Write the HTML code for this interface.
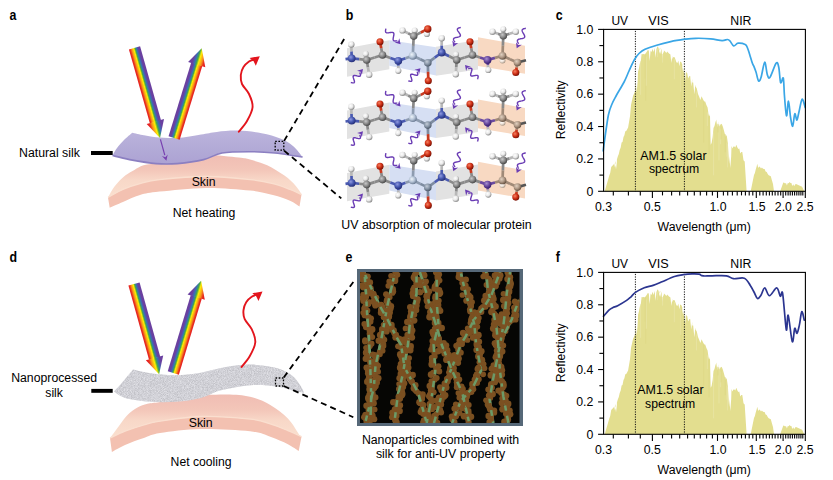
<!DOCTYPE html>
<html><head><meta charset="utf-8"><style>
html,body{margin:0;padding:0;background:#fff;overflow:hidden;}
svg{display:block;}
</style></head><body>
<svg width="833" height="480" viewBox="0 0 833 480" font-family='"Liberation Sans", sans-serif'>
<defs><linearGradient id="skta" x1="0" y1="0" x2="0" y2="1"><stop offset="0" stop-color="#f0bdb3"/><stop offset="0.35" stop-color="#f3c6b9"/><stop offset="0.6" stop-color="#f8d8c8"/><stop offset="1" stop-color="#fae0cf"/></linearGradient>
<linearGradient id="sga" x1="0" y1="0" x2="0" y2="1"><stop offset="0" stop-color="#bcb4dc"/><stop offset="0.5" stop-color="#b3abd7"/><stop offset="1" stop-color="#aca2d3"/></linearGradient>
<linearGradient id="rba0" gradientUnits="userSpaceOnUse" x1="-5.8" y1="0" x2="5.8" y2="0"><stop offset="0.000" stop-color="#e41d24"/><stop offset="0.100" stop-color="#e8301e"/><stop offset="0.240" stop-color="#f7941d"/><stop offset="0.420" stop-color="#fff000"/><stop offset="0.540" stop-color="#45a847"/><stop offset="0.660" stop-color="#3770b8"/><stop offset="0.820" stop-color="#6a40a0"/><stop offset="1.000" stop-color="#6a40a0"/></linearGradient><linearGradient id="rba0h" gradientUnits="userSpaceOnUse" x1="-7.6499999999999995" y1="0" x2="7.6499999999999995" y2="0"><stop offset="0.000" stop-color="#e41d24"/><stop offset="0.100" stop-color="#e8301e"/><stop offset="0.240" stop-color="#f7941d"/><stop offset="0.420" stop-color="#fff000"/><stop offset="0.540" stop-color="#45a847"/><stop offset="0.660" stop-color="#3770b8"/><stop offset="0.820" stop-color="#6a40a0"/><stop offset="1.000" stop-color="#6a40a0"/></linearGradient>
<linearGradient id="rba1" gradientUnits="userSpaceOnUse" x1="-5.8" y1="0" x2="5.8" y2="0"><stop offset="0.000" stop-color="#e41d24"/><stop offset="0.100" stop-color="#e8301e"/><stop offset="0.240" stop-color="#f7941d"/><stop offset="0.420" stop-color="#fff000"/><stop offset="0.540" stop-color="#45a847"/><stop offset="0.660" stop-color="#3770b8"/><stop offset="0.820" stop-color="#6a40a0"/><stop offset="1.000" stop-color="#6a40a0"/></linearGradient><linearGradient id="rba1h" gradientUnits="userSpaceOnUse" x1="-7.6499999999999995" y1="0" x2="7.6499999999999995" y2="0"><stop offset="0.000" stop-color="#e41d24"/><stop offset="0.100" stop-color="#e8301e"/><stop offset="0.240" stop-color="#f7941d"/><stop offset="0.420" stop-color="#fff000"/><stop offset="0.540" stop-color="#45a847"/><stop offset="0.660" stop-color="#3770b8"/><stop offset="0.820" stop-color="#6a40a0"/><stop offset="1.000" stop-color="#6a40a0"/></linearGradient>
<linearGradient id="sktd" x1="0" y1="0" x2="0" y2="1"><stop offset="0" stop-color="#f0bdb3"/><stop offset="0.35" stop-color="#f3c6b9"/><stop offset="0.6" stop-color="#f8d8c8"/><stop offset="1" stop-color="#fae0cf"/></linearGradient>
<filter id="nzd" x="0" y="0" width="1" height="1" color-interpolation-filters="sRGB"><feTurbulence type="fractalNoise" baseFrequency="1.3" numOctaves="1" seed="4" result="n"/><feColorMatrix in="n" type="matrix" values="0.7 0 0 0 0.47  0.7 0 0 0 0.47  0.7 0 0 0 0.5  0 0 0 0 0.38" result="m"/><feComposite in="m" in2="SourceGraphic" operator="in" result="c"/><feMerge><feMergeNode in="SourceGraphic"/><feMergeNode in="c"/></feMerge></filter>
<linearGradient id="rbd0" gradientUnits="userSpaceOnUse" x1="-5.8" y1="0" x2="5.8" y2="0"><stop offset="0.000" stop-color="#e41d24"/><stop offset="0.100" stop-color="#e8301e"/><stop offset="0.240" stop-color="#f7941d"/><stop offset="0.420" stop-color="#fff000"/><stop offset="0.540" stop-color="#45a847"/><stop offset="0.660" stop-color="#3770b8"/><stop offset="0.820" stop-color="#6a40a0"/><stop offset="1.000" stop-color="#6a40a0"/></linearGradient><linearGradient id="rbd0h" gradientUnits="userSpaceOnUse" x1="-7.6499999999999995" y1="0" x2="7.6499999999999995" y2="0"><stop offset="0.000" stop-color="#e41d24"/><stop offset="0.100" stop-color="#e8301e"/><stop offset="0.240" stop-color="#f7941d"/><stop offset="0.420" stop-color="#fff000"/><stop offset="0.540" stop-color="#45a847"/><stop offset="0.660" stop-color="#3770b8"/><stop offset="0.820" stop-color="#6a40a0"/><stop offset="1.000" stop-color="#6a40a0"/></linearGradient>
<linearGradient id="rbd1" gradientUnits="userSpaceOnUse" x1="-5.8" y1="0" x2="5.8" y2="0"><stop offset="0.000" stop-color="#e41d24"/><stop offset="0.100" stop-color="#e8301e"/><stop offset="0.240" stop-color="#f7941d"/><stop offset="0.420" stop-color="#fff000"/><stop offset="0.540" stop-color="#45a847"/><stop offset="0.660" stop-color="#3770b8"/><stop offset="0.820" stop-color="#6a40a0"/><stop offset="1.000" stop-color="#6a40a0"/></linearGradient><linearGradient id="rbd1h" gradientUnits="userSpaceOnUse" x1="-7.6499999999999995" y1="0" x2="7.6499999999999995" y2="0"><stop offset="0.000" stop-color="#e41d24"/><stop offset="0.100" stop-color="#e8301e"/><stop offset="0.240" stop-color="#f7941d"/><stop offset="0.420" stop-color="#fff000"/><stop offset="0.540" stop-color="#45a847"/><stop offset="0.660" stop-color="#3770b8"/><stop offset="0.820" stop-color="#6a40a0"/><stop offset="1.000" stop-color="#6a40a0"/></linearGradient>
<radialGradient id="aH" cx="0.38" cy="0.35" r="0.65"><stop offset="0" stop-color="#ffffff"/><stop offset="0.55" stop-color="#e8e8e8"/><stop offset="1" stop-color="#8c8c8c"/></radialGradient>
<radialGradient id="aC" cx="0.38" cy="0.35" r="0.65"><stop offset="0" stop-color="#c8c8c8"/><stop offset="0.55" stop-color="#8a8a8a"/><stop offset="1" stop-color="#4a4a4a"/></radialGradient>
<radialGradient id="aN" cx="0.38" cy="0.35" r="0.65"><stop offset="0" stop-color="#8f9ae0"/><stop offset="0.55" stop-color="#4658b0"/><stop offset="1" stop-color="#26307a"/></radialGradient>
<radialGradient id="aO" cx="0.38" cy="0.35" r="0.65"><stop offset="0" stop-color="#f58060"/><stop offset="0.55" stop-color="#cf3016"/><stop offset="1" stop-color="#7a1204"/></radialGradient>
<radialGradient id="aCa" cx="0.38" cy="0.35" r="0.65"><stop offset="0" stop-color="#eef4fa"/><stop offset="0.55" stop-color="#b5c3d6"/><stop offset="1" stop-color="#6d7d95"/></radialGradient>
<radialGradient id="aCb" cx="0.38" cy="0.35" r="0.65"><stop offset="0" stop-color="#c4ccd8"/><stop offset="0.55" stop-color="#8896a8"/><stop offset="1" stop-color="#4e5a6a"/></radialGradient>
<radialGradient id="aNp" cx="0.38" cy="0.35" r="0.65"><stop offset="0" stop-color="#a890d0"/><stop offset="0.55" stop-color="#6a4aa0"/><stop offset="1" stop-color="#3a2070"/></radialGradient>
<radialGradient id="aCt" cx="0.38" cy="0.35" r="0.65"><stop offset="0" stop-color="#e0d0c0"/><stop offset="0.55" stop-color="#b09a88"/><stop offset="1" stop-color="#6a5646"/></radialGradient>
<radialGradient id="aHt" cx="0.38" cy="0.35" r="0.65"><stop offset="0" stop-color="#ffffff"/><stop offset="0.55" stop-color="#efe4da"/><stop offset="1" stop-color="#a89888"/></radialGradient></defs>
<defs><clipPath id="eclip"><rect x="360" y="272" width="159.5" height="151"/></clipPath></defs>
<rect x="357" y="269" width="166" height="157" fill="#566878"/>
<rect x="360" y="272" width="159.5" height="151" fill="#060604"/>
<g clip-path="url(#eclip)">
<path d="M364.4,272 L366.1,293.6 L367,312.4 L368.7,332.9 L370.4,370.6 L371.2,396.2 L370.4,423" fill="none" stroke="#6a9866" stroke-width="3.0" stroke-linejoin="round"/>
<path d="M365.2,275 L373.8,293.6 L380.6,307.3 L387.4,319.2 L396,336.3 L401.1,345 L404.5,367.2 L418.2,392.8 L426.7,423" fill="none" stroke="#6a9866" stroke-width="3.0" stroke-linejoin="round"/>
<path d="M395.1,272 L390.9,290.2 L387.4,305.6 L384,324.4 L380.6,343.1 L375.5,365.5 L373.8,387.7 L365.2,423" fill="none" stroke="#6a9866" stroke-width="3.0" stroke-linejoin="round"/>
<path d="M416.5,272 L416.5,293.6 L413.1,309 L409.6,326 L407.9,345 L402.8,374 L397.7,396.2 L394.3,423" fill="none" stroke="#6a9866" stroke-width="3.0" stroke-linejoin="round"/>
<path d="M419.9,272 L426.7,293.6 L430.1,307.3 L435.3,322.6 L440.4,339.7 L441.8,345 L452.1,370.6 L462.3,392.8 L469.2,423" fill="none" stroke="#6a9866" stroke-width="3.0" stroke-linejoin="round"/>
<path d="M436.7,272 L436.7,302.2 L438.4,324.4 L433.6,345 L435.3,370.6 L431.8,396.2 L426.7,423" fill="none" stroke="#6a9866" stroke-width="3.0" stroke-linejoin="round"/>
<path d="M460.6,272 L465.7,293.6 L470.9,310.7 L474.3,324.4 L476,343.1 L481.1,370.6 L472.6,387.7 L460.6,401.4 L452.1,423" fill="none" stroke="#6a9866" stroke-width="3.0" stroke-linejoin="round"/>
<path d="M486.2,272 L487.9,290.2 L493.1,310.7 L496.5,327.8 L498.2,344.8 L499.9,370.6 L503.3,396.2 L508.4,423" fill="none" stroke="#6a9866" stroke-width="3.0" stroke-linejoin="round"/>
<path d="M499.9,272 L491.4,295.3 L482.8,309 L474.3,319.2 L465.7,336.3 L460.6,345 L452.1,367.2 L443.5,387.7 L436.7,413.3 L434,423" fill="none" stroke="#6a9866" stroke-width="3.0" stroke-linejoin="round"/>
<path d="M510.1,272 L506.7,293.6 L505,312.4 L503.3,326 L499.9,344.8 L493.1,379.2 L489.6,399.6 L493.1,423" fill="none" stroke="#6a9866" stroke-width="3.0" stroke-linejoin="round"/>
<path d="M519,300 L511.8,319.2 L503.3,336.3" fill="none" stroke="#6a9866" stroke-width="3.0" stroke-linejoin="round"/>
<circle cx="362.5" cy="272.8" r="3.28" fill="#7b5021"/>
<circle cx="362.7" cy="275.3" r="3.35" fill="#7b5021"/>
<circle cx="365.0" cy="276.3" r="3.37" fill="#7b5021"/>
<circle cx="361.8" cy="279.4" r="2.87" fill="#7b5021"/>
<circle cx="367.1" cy="281.0" r="3.13" fill="#7b5021"/>
<circle cx="369.2" cy="283.1" r="2.93" fill="#7b5021"/>
<circle cx="362.1" cy="285.5" r="3.26" fill="#7b5021"/>
<circle cx="363.2" cy="287.5" r="2.88" fill="#7b5021"/>
<circle cx="368.8" cy="289.7" r="2.80" fill="#7b5021"/>
<circle cx="368.3" cy="292.2" r="2.93" fill="#7b5021"/>
<circle cx="363.2" cy="294.8" r="2.97" fill="#7b5021"/>
<circle cx="365.9" cy="296.7" r="3.21" fill="#7b5021"/>
<circle cx="362.8" cy="298.2" r="3.21" fill="#7b5021"/>
<circle cx="363.3" cy="301.0" r="2.98" fill="#7b5021"/>
<circle cx="369.2" cy="302.2" r="2.89" fill="#7b5021"/>
<circle cx="368.2" cy="304.0" r="3.16" fill="#7b5021"/>
<circle cx="365.3" cy="306.2" r="3.00" fill="#7b5021"/>
<circle cx="364.3" cy="308.7" r="3.09" fill="#7b5021"/>
<circle cx="367.1" cy="310.6" r="3.22" fill="#7b5021"/>
<circle cx="363.2" cy="312.8" r="2.81" fill="#7b5021"/>
<circle cx="364.5" cy="315.4" r="2.81" fill="#7b5021"/>
<circle cx="368.5" cy="317.2" r="3.15" fill="#7b5021"/>
<circle cx="371.1" cy="318.3" r="2.91" fill="#7b5021"/>
<circle cx="370.2" cy="321.4" r="3.25" fill="#7b5021"/>
<circle cx="364.4" cy="323.9" r="3.01" fill="#7b5021"/>
<circle cx="367.9" cy="325.1" r="3.27" fill="#7b5021"/>
<circle cx="366.2" cy="327.0" r="3.28" fill="#7b5021"/>
<circle cx="372.1" cy="329.4" r="3.37" fill="#7b5021"/>
<circle cx="369.8" cy="330.8" r="3.17" fill="#7b5021"/>
<circle cx="370.0" cy="333.8" r="3.35" fill="#7b5021"/>
<circle cx="370.3" cy="335.5" r="2.99" fill="#7b5021"/>
<circle cx="372.3" cy="337.1" r="2.89" fill="#7b5021"/>
<circle cx="365.0" cy="340.1" r="2.90" fill="#7b5021"/>
<circle cx="365.2" cy="341.5" r="3.12" fill="#7b5021"/>
<circle cx="371.3" cy="343.7" r="3.16" fill="#7b5021"/>
<circle cx="369.7" cy="346.3" r="3.05" fill="#7b5021"/>
<circle cx="366.0" cy="347.8" r="2.82" fill="#7b5021"/>
<circle cx="366.8" cy="350.3" r="2.88" fill="#7b5021"/>
<circle cx="366.0" cy="352.7" r="3.18" fill="#7b5021"/>
<circle cx="372.8" cy="354.5" r="3.06" fill="#7b5021"/>
<circle cx="367.0" cy="356.2" r="2.98" fill="#7b5021"/>
<circle cx="365.9" cy="358.7" r="3.31" fill="#7b5021"/>
<circle cx="370.3" cy="361.1" r="3.09" fill="#7b5021"/>
<circle cx="370.2" cy="363.0" r="2.97" fill="#7b5021"/>
<circle cx="373.0" cy="364.6" r="3.03" fill="#7b5021"/>
<circle cx="366.6" cy="367.6" r="3.18" fill="#7b5021"/>
<circle cx="371.6" cy="369.0" r="2.85" fill="#7b5021"/>
<circle cx="368.2" cy="371.0" r="3.32" fill="#7b5021"/>
<circle cx="368.2" cy="373.2" r="3.26" fill="#7b5021"/>
<circle cx="369.2" cy="375.6" r="3.26" fill="#7b5021"/>
<circle cx="369.0" cy="377.4" r="2.97" fill="#7b5021"/>
<circle cx="368.5" cy="379.7" r="3.21" fill="#7b5021"/>
<circle cx="367.2" cy="381.7" r="3.19" fill="#7b5021"/>
<circle cx="374.7" cy="383.9" r="3.13" fill="#7b5021"/>
<circle cx="369.5" cy="385.8" r="3.08" fill="#7b5021"/>
<circle cx="369.8" cy="388.6" r="3.28" fill="#7b5021"/>
<circle cx="369.9" cy="390.2" r="3.24" fill="#7b5021"/>
<circle cx="372.3" cy="392.8" r="3.31" fill="#7b5021"/>
<circle cx="369.7" cy="395.0" r="3.39" fill="#7b5021"/>
<circle cx="371.0" cy="397.2" r="3.12" fill="#7b5021"/>
<circle cx="368.4" cy="398.4" r="3.36" fill="#7b5021"/>
<circle cx="369.5" cy="400.8" r="3.23" fill="#7b5021"/>
<circle cx="373.6" cy="403.2" r="3.27" fill="#7b5021"/>
<circle cx="369.6" cy="405.0" r="3.05" fill="#7b5021"/>
<circle cx="368.7" cy="407.1" r="3.18" fill="#7b5021"/>
<circle cx="374.6" cy="409.4" r="2.90" fill="#7b5021"/>
<circle cx="369.6" cy="411.0" r="2.93" fill="#7b5021"/>
<circle cx="369.6" cy="413.4" r="2.83" fill="#7b5021"/>
<circle cx="372.8" cy="415.3" r="2.83" fill="#7b5021"/>
<circle cx="372.0" cy="417.0" r="2.91" fill="#7b5021"/>
<circle cx="374.2" cy="419.2" r="3.08" fill="#7b5021"/>
<circle cx="369.6" cy="421.3" r="3.15" fill="#7b5021"/>
<circle cx="362.4" cy="276.6" r="2.80" fill="#7b5021"/>
<circle cx="367.8" cy="276.5" r="3.05" fill="#7b5021"/>
<circle cx="364.6" cy="279.9" r="3.02" fill="#7b5021"/>
<circle cx="367.0" cy="281.0" r="2.86" fill="#7b5021"/>
<circle cx="370.0" cy="282.4" r="3.15" fill="#7b5021"/>
<circle cx="367.6" cy="286.3" r="3.05" fill="#7b5021"/>
<circle cx="369.7" cy="287.4" r="3.02" fill="#7b5021"/>
<circle cx="370.6" cy="288.5" r="3.14" fill="#7b5021"/>
<circle cx="369.1" cy="292.3" r="3.17" fill="#7b5021"/>
<circle cx="370.2" cy="293.4" r="2.80" fill="#7b5021"/>
<circle cx="373.4" cy="293.9" r="3.17" fill="#7b5021"/>
<circle cx="373.9" cy="296.2" r="3.33" fill="#7b5021"/>
<circle cx="376.4" cy="297.6" r="2.94" fill="#7b5021"/>
<circle cx="373.5" cy="301.4" r="3.03" fill="#7b5021"/>
<circle cx="375.2" cy="303.8" r="3.16" fill="#7b5021"/>
<circle cx="375.3" cy="305.4" r="3.10" fill="#7b5021"/>
<circle cx="381.1" cy="305.1" r="3.39" fill="#7b5021"/>
<circle cx="382.4" cy="306.9" r="3.09" fill="#7b5021"/>
<circle cx="381.0" cy="309.9" r="3.07" fill="#7b5021"/>
<circle cx="381.1" cy="312.7" r="3.30" fill="#7b5021"/>
<circle cx="383.8" cy="313.4" r="2.96" fill="#7b5021"/>
<circle cx="383.7" cy="317.3" r="2.95" fill="#7b5021"/>
<circle cx="388.8" cy="316.1" r="3.39" fill="#7b5021"/>
<circle cx="386.8" cy="319.9" r="3.08" fill="#7b5021"/>
<circle cx="387.9" cy="322.1" r="3.25" fill="#7b5021"/>
<circle cx="387.5" cy="324.0" r="2.98" fill="#7b5021"/>
<circle cx="391.7" cy="324.8" r="2.98" fill="#7b5021"/>
<circle cx="391.7" cy="327.2" r="3.02" fill="#7b5021"/>
<circle cx="391.9" cy="329.7" r="2.82" fill="#7b5021"/>
<circle cx="393.6" cy="330.7" r="3.35" fill="#7b5021"/>
<circle cx="394.2" cy="333.5" r="2.81" fill="#7b5021"/>
<circle cx="395.9" cy="334.9" r="3.15" fill="#7b5021"/>
<circle cx="395.4" cy="337.5" r="3.09" fill="#7b5021"/>
<circle cx="398.3" cy="338.4" r="3.04" fill="#7b5021"/>
<circle cx="400.6" cy="339.3" r="2.98" fill="#7b5021"/>
<circle cx="402.5" cy="340.5" r="3.30" fill="#7b5021"/>
<circle cx="400.9" cy="343.6" r="2.97" fill="#7b5021"/>
<circle cx="398.0" cy="346.3" r="2.89" fill="#7b5021"/>
<circle cx="401.1" cy="347.6" r="3.10" fill="#7b5021"/>
<circle cx="404.5" cy="349.0" r="3.15" fill="#7b5021"/>
<circle cx="405.6" cy="351.4" r="2.94" fill="#7b5021"/>
<circle cx="400.2" cy="354.3" r="3.20" fill="#7b5021"/>
<circle cx="400.9" cy="355.4" r="3.39" fill="#7b5021"/>
<circle cx="401.5" cy="358.4" r="2.83" fill="#7b5021"/>
<circle cx="405.6" cy="359.6" r="3.19" fill="#7b5021"/>
<circle cx="402.0" cy="362.4" r="2.88" fill="#7b5021"/>
<circle cx="400.6" cy="364.0" r="2.89" fill="#7b5021"/>
<circle cx="405.0" cy="365.7" r="2.90" fill="#7b5021"/>
<circle cx="408.0" cy="366.0" r="2.86" fill="#7b5021"/>
<circle cx="408.7" cy="367.8" r="2.83" fill="#7b5021"/>
<circle cx="405.0" cy="372.3" r="3.33" fill="#7b5021"/>
<circle cx="408.0" cy="372.6" r="2.99" fill="#7b5021"/>
<circle cx="408.8" cy="375.0" r="3.36" fill="#7b5021"/>
<circle cx="412.7" cy="375.0" r="3.22" fill="#7b5021"/>
<circle cx="409.5" cy="378.8" r="3.10" fill="#7b5021"/>
<circle cx="411.4" cy="381.0" r="3.17" fill="#7b5021"/>
<circle cx="412.1" cy="382.3" r="2.95" fill="#7b5021"/>
<circle cx="413.6" cy="384.4" r="2.88" fill="#7b5021"/>
<circle cx="415.3" cy="385.2" r="3.24" fill="#7b5021"/>
<circle cx="413.8" cy="388.3" r="3.19" fill="#7b5021"/>
<circle cx="415.1" cy="389.9" r="2.85" fill="#7b5021"/>
<circle cx="416.6" cy="391.4" r="2.94" fill="#7b5021"/>
<circle cx="418.6" cy="393.6" r="2.99" fill="#7b5021"/>
<circle cx="422.6" cy="394.6" r="3.24" fill="#7b5021"/>
<circle cx="422.0" cy="396.1" r="3.37" fill="#7b5021"/>
<circle cx="422.2" cy="398.9" r="2.87" fill="#7b5021"/>
<circle cx="419.5" cy="402.2" r="3.29" fill="#7b5021"/>
<circle cx="420.1" cy="403.3" r="3.01" fill="#7b5021"/>
<circle cx="423.0" cy="404.8" r="3.17" fill="#7b5021"/>
<circle cx="423.1" cy="407.0" r="2.88" fill="#7b5021"/>
<circle cx="421.8" cy="410.1" r="3.28" fill="#7b5021"/>
<circle cx="420.7" cy="412.1" r="3.11" fill="#7b5021"/>
<circle cx="423.5" cy="413.7" r="3.24" fill="#7b5021"/>
<circle cx="427.6" cy="414.5" r="2.82" fill="#7b5021"/>
<circle cx="428.6" cy="416.2" r="3.33" fill="#7b5021"/>
<circle cx="423.7" cy="420.0" r="2.80" fill="#7b5021"/>
<circle cx="423.3" cy="422.3" r="3.17" fill="#7b5021"/>
<circle cx="395.3" cy="272.5" r="2.86" fill="#7b5021"/>
<circle cx="397.3" cy="274.8" r="3.02" fill="#7b5021"/>
<circle cx="391.1" cy="275.8" r="2.89" fill="#7b5021"/>
<circle cx="395.4" cy="278.7" r="2.90" fill="#7b5021"/>
<circle cx="395.2" cy="280.9" r="3.09" fill="#7b5021"/>
<circle cx="389.4" cy="281.4" r="3.02" fill="#7b5021"/>
<circle cx="390.6" cy="284.7" r="3.20" fill="#7b5021"/>
<circle cx="388.3" cy="285.8" r="2.87" fill="#7b5021"/>
<circle cx="392.8" cy="289.2" r="3.20" fill="#7b5021"/>
<circle cx="393.3" cy="291.6" r="2.92" fill="#7b5021"/>
<circle cx="392.5" cy="292.9" r="2.85" fill="#7b5021"/>
<circle cx="386.1" cy="294.2" r="3.02" fill="#7b5021"/>
<circle cx="389.6" cy="297.2" r="2.97" fill="#7b5021"/>
<circle cx="387.0" cy="299.4" r="2.90" fill="#7b5021"/>
<circle cx="387.0" cy="301.2" r="3.36" fill="#7b5021"/>
<circle cx="388.3" cy="304.2" r="3.39" fill="#7b5021"/>
<circle cx="390.9" cy="306.2" r="3.27" fill="#7b5021"/>
<circle cx="390.5" cy="308.8" r="3.13" fill="#7b5021"/>
<circle cx="386.3" cy="310.8" r="3.01" fill="#7b5021"/>
<circle cx="389.6" cy="312.6" r="3.34" fill="#7b5021"/>
<circle cx="382.4" cy="313.8" r="2.83" fill="#7b5021"/>
<circle cx="389.0" cy="316.9" r="3.04" fill="#7b5021"/>
<circle cx="387.0" cy="318.5" r="3.04" fill="#7b5021"/>
<circle cx="388.2" cy="321.2" r="2.82" fill="#7b5021"/>
<circle cx="386.7" cy="323.8" r="3.11" fill="#7b5021"/>
<circle cx="383.7" cy="324.8" r="2.85" fill="#7b5021"/>
<circle cx="386.6" cy="327.4" r="3.13" fill="#7b5021"/>
<circle cx="382.3" cy="329.4" r="3.31" fill="#7b5021"/>
<circle cx="386.6" cy="331.5" r="3.12" fill="#7b5021"/>
<circle cx="381.8" cy="333.1" r="3.03" fill="#7b5021"/>
<circle cx="380.2" cy="335.1" r="3.35" fill="#7b5021"/>
<circle cx="382.1" cy="337.3" r="3.30" fill="#7b5021"/>
<circle cx="384.3" cy="339.7" r="2.99" fill="#7b5021"/>
<circle cx="378.8" cy="340.7" r="3.29" fill="#7b5021"/>
<circle cx="383.4" cy="344.1" r="2.85" fill="#7b5021"/>
<circle cx="383.3" cy="346.1" r="3.06" fill="#7b5021"/>
<circle cx="381.5" cy="348.2" r="2.84" fill="#7b5021"/>
<circle cx="382.6" cy="350.7" r="2.92" fill="#7b5021"/>
<circle cx="379.7" cy="351.8" r="2.86" fill="#7b5021"/>
<circle cx="379.6" cy="354.0" r="3.25" fill="#7b5021"/>
<circle cx="374.6" cy="355.2" r="3.19" fill="#7b5021"/>
<circle cx="376.6" cy="358.0" r="3.07" fill="#7b5021"/>
<circle cx="375.5" cy="359.9" r="3.37" fill="#7b5021"/>
<circle cx="374.7" cy="361.8" r="2.96" fill="#7b5021"/>
<circle cx="376.7" cy="364.5" r="2.88" fill="#7b5021"/>
<circle cx="378.1" cy="365.8" r="2.96" fill="#7b5021"/>
<circle cx="377.0" cy="368.3" r="2.84" fill="#7b5021"/>
<circle cx="374.7" cy="370.3" r="2.82" fill="#7b5021"/>
<circle cx="378.0" cy="371.8" r="3.01" fill="#7b5021"/>
<circle cx="371.2" cy="374.2" r="3.17" fill="#7b5021"/>
<circle cx="375.3" cy="375.9" r="3.02" fill="#7b5021"/>
<circle cx="378.4" cy="378.2" r="3.15" fill="#7b5021"/>
<circle cx="372.5" cy="380.3" r="2.86" fill="#7b5021"/>
<circle cx="376.8" cy="382.4" r="3.23" fill="#7b5021"/>
<circle cx="370.6" cy="383.8" r="3.28" fill="#7b5021"/>
<circle cx="375.4" cy="385.9" r="3.35" fill="#7b5021"/>
<circle cx="374.2" cy="388.3" r="3.06" fill="#7b5021"/>
<circle cx="369.7" cy="389.6" r="3.12" fill="#7b5021"/>
<circle cx="371.9" cy="392.4" r="2.86" fill="#7b5021"/>
<circle cx="372.8" cy="394.5" r="2.83" fill="#7b5021"/>
<circle cx="375.3" cy="397.4" r="3.15" fill="#7b5021"/>
<circle cx="368.3" cy="397.3" r="3.04" fill="#7b5021"/>
<circle cx="372.6" cy="400.1" r="2.92" fill="#7b5021"/>
<circle cx="371.4" cy="402.3" r="3.25" fill="#7b5021"/>
<circle cx="371.1" cy="403.9" r="2.95" fill="#7b5021"/>
<circle cx="366.6" cy="405.7" r="3.31" fill="#7b5021"/>
<circle cx="369.6" cy="408.1" r="2.89" fill="#7b5021"/>
<circle cx="368.4" cy="410.1" r="2.82" fill="#7b5021"/>
<circle cx="371.1" cy="412.2" r="3.23" fill="#7b5021"/>
<circle cx="369.7" cy="414.6" r="3.28" fill="#7b5021"/>
<circle cx="365.6" cy="415.1" r="3.32" fill="#7b5021"/>
<circle cx="364.1" cy="417.2" r="3.03" fill="#7b5021"/>
<circle cx="366.1" cy="419.1" r="3.15" fill="#7b5021"/>
<circle cx="366.5" cy="421.4" r="2.99" fill="#7b5021"/>
<circle cx="418.0" cy="272.0" r="3.03" fill="#7b5021"/>
<circle cx="414.9" cy="274.7" r="3.04" fill="#7b5021"/>
<circle cx="414.0" cy="277.4" r="3.35" fill="#7b5021"/>
<circle cx="415.1" cy="279.2" r="3.12" fill="#7b5021"/>
<circle cx="417.6" cy="281.5" r="3.16" fill="#7b5021"/>
<circle cx="416.3" cy="283.5" r="2.97" fill="#7b5021"/>
<circle cx="419.8" cy="285.0" r="3.01" fill="#7b5021"/>
<circle cx="414.4" cy="287.7" r="3.23" fill="#7b5021"/>
<circle cx="413.1" cy="289.6" r="2.96" fill="#7b5021"/>
<circle cx="419.9" cy="292.2" r="3.25" fill="#7b5021"/>
<circle cx="412.8" cy="293.5" r="3.34" fill="#7b5021"/>
<circle cx="413.2" cy="296.0" r="3.24" fill="#7b5021"/>
<circle cx="417.7" cy="299.2" r="3.11" fill="#7b5021"/>
<circle cx="416.9" cy="301.6" r="3.38" fill="#7b5021"/>
<circle cx="415.3" cy="303.2" r="2.80" fill="#7b5021"/>
<circle cx="416.5" cy="305.6" r="3.19" fill="#7b5021"/>
<circle cx="410.2" cy="307.1" r="3.17" fill="#7b5021"/>
<circle cx="416.1" cy="310.0" r="3.21" fill="#7b5021"/>
<circle cx="410.9" cy="311.4" r="3.02" fill="#7b5021"/>
<circle cx="414.3" cy="314.7" r="2.98" fill="#7b5021"/>
<circle cx="410.8" cy="315.5" r="3.34" fill="#7b5021"/>
<circle cx="410.3" cy="317.5" r="3.26" fill="#7b5021"/>
<circle cx="414.3" cy="320.6" r="3.14" fill="#7b5021"/>
<circle cx="407.3" cy="322.0" r="3.24" fill="#7b5021"/>
<circle cx="410.5" cy="324.4" r="3.12" fill="#7b5021"/>
<circle cx="411.1" cy="327.1" r="2.97" fill="#7b5021"/>
<circle cx="405.6" cy="328.4" r="2.91" fill="#7b5021"/>
<circle cx="412.3" cy="330.5" r="3.14" fill="#7b5021"/>
<circle cx="411.5" cy="333.2" r="2.91" fill="#7b5021"/>
<circle cx="407.6" cy="335.0" r="3.21" fill="#7b5021"/>
<circle cx="412.1" cy="337.6" r="3.09" fill="#7b5021"/>
<circle cx="404.7" cy="339.2" r="2.99" fill="#7b5021"/>
<circle cx="407.0" cy="341.6" r="3.36" fill="#7b5021"/>
<circle cx="406.5" cy="343.0" r="3.30" fill="#7b5021"/>
<circle cx="411.0" cy="346.0" r="2.92" fill="#7b5021"/>
<circle cx="410.7" cy="347.8" r="2.89" fill="#7b5021"/>
<circle cx="410.2" cy="350.3" r="3.25" fill="#7b5021"/>
<circle cx="404.2" cy="351.5" r="3.28" fill="#7b5021"/>
<circle cx="403.0" cy="353.4" r="3.37" fill="#7b5021"/>
<circle cx="402.3" cy="355.4" r="2.86" fill="#7b5021"/>
<circle cx="409.1" cy="358.1" r="2.92" fill="#7b5021"/>
<circle cx="405.6" cy="359.9" r="3.21" fill="#7b5021"/>
<circle cx="408.1" cy="362.9" r="3.04" fill="#7b5021"/>
<circle cx="405.5" cy="364.4" r="2.87" fill="#7b5021"/>
<circle cx="405.1" cy="366.5" r="3.21" fill="#7b5021"/>
<circle cx="400.2" cy="367.7" r="3.37" fill="#7b5021"/>
<circle cx="401.5" cy="369.6" r="3.23" fill="#7b5021"/>
<circle cx="406.1" cy="372.8" r="3.09" fill="#7b5021"/>
<circle cx="400.9" cy="373.9" r="3.35" fill="#7b5021"/>
<circle cx="403.9" cy="376.8" r="3.10" fill="#7b5021"/>
<circle cx="399.5" cy="378.2" r="3.15" fill="#7b5021"/>
<circle cx="402.6" cy="380.6" r="3.31" fill="#7b5021"/>
<circle cx="404.3" cy="383.4" r="3.05" fill="#7b5021"/>
<circle cx="399.1" cy="384.0" r="2.84" fill="#7b5021"/>
<circle cx="403.1" cy="387.1" r="3.09" fill="#7b5021"/>
<circle cx="399.0" cy="389.0" r="3.03" fill="#7b5021"/>
<circle cx="402.1" cy="391.8" r="3.01" fill="#7b5021"/>
<circle cx="402.3" cy="393.9" r="3.26" fill="#7b5021"/>
<circle cx="401.9" cy="395.4" r="2.95" fill="#7b5021"/>
<circle cx="398.6" cy="396.8" r="3.11" fill="#7b5021"/>
<circle cx="399.7" cy="398.6" r="3.38" fill="#7b5021"/>
<circle cx="397.3" cy="400.8" r="2.85" fill="#7b5021"/>
<circle cx="393.3" cy="402.2" r="3.21" fill="#7b5021"/>
<circle cx="400.1" cy="405.4" r="3.04" fill="#7b5021"/>
<circle cx="396.8" cy="407.4" r="3.16" fill="#7b5021"/>
<circle cx="394.9" cy="409.4" r="3.18" fill="#7b5021"/>
<circle cx="399.6" cy="411.1" r="3.26" fill="#7b5021"/>
<circle cx="392.6" cy="412.7" r="3.30" fill="#7b5021"/>
<circle cx="396.2" cy="415.8" r="3.40" fill="#7b5021"/>
<circle cx="391.9" cy="417.2" r="2.89" fill="#7b5021"/>
<circle cx="395.3" cy="419.8" r="3.38" fill="#7b5021"/>
<circle cx="396.7" cy="422.2" r="3.05" fill="#7b5021"/>
<circle cx="420.2" cy="272.2" r="2.97" fill="#7b5021"/>
<circle cx="423.6" cy="273.7" r="2.90" fill="#7b5021"/>
<circle cx="424.5" cy="275.4" r="3.03" fill="#7b5021"/>
<circle cx="419.1" cy="279.7" r="2.92" fill="#7b5021"/>
<circle cx="419.9" cy="280.7" r="3.38" fill="#7b5021"/>
<circle cx="426.0" cy="281.5" r="2.94" fill="#7b5021"/>
<circle cx="420.6" cy="285.7" r="2.82" fill="#7b5021"/>
<circle cx="424.8" cy="285.8" r="2.96" fill="#7b5021"/>
<circle cx="426.0" cy="288.1" r="3.27" fill="#7b5021"/>
<circle cx="425.4" cy="289.9" r="3.38" fill="#7b5021"/>
<circle cx="429.4" cy="291.3" r="2.87" fill="#7b5021"/>
<circle cx="427.8" cy="294.0" r="3.02" fill="#7b5021"/>
<circle cx="426.7" cy="296.2" r="3.38" fill="#7b5021"/>
<circle cx="427.2" cy="297.9" r="2.96" fill="#7b5021"/>
<circle cx="426.5" cy="300.5" r="2.88" fill="#7b5021"/>
<circle cx="427.2" cy="302.3" r="2.80" fill="#7b5021"/>
<circle cx="429.9" cy="304.0" r="3.10" fill="#7b5021"/>
<circle cx="427.5" cy="306.5" r="2.83" fill="#7b5021"/>
<circle cx="433.8" cy="306.6" r="3.03" fill="#7b5021"/>
<circle cx="434.5" cy="308.3" r="2.98" fill="#7b5021"/>
<circle cx="430.4" cy="312.0" r="3.35" fill="#7b5021"/>
<circle cx="431.9" cy="313.5" r="3.23" fill="#7b5021"/>
<circle cx="429.6" cy="317.0" r="3.39" fill="#7b5021"/>
<circle cx="436.0" cy="316.3" r="3.36" fill="#7b5021"/>
<circle cx="434.4" cy="318.7" r="3.24" fill="#7b5021"/>
<circle cx="435.7" cy="320.9" r="3.35" fill="#7b5021"/>
<circle cx="435.0" cy="323.0" r="3.30" fill="#7b5021"/>
<circle cx="437.1" cy="324.5" r="3.10" fill="#7b5021"/>
<circle cx="439.0" cy="326.8" r="3.07" fill="#7b5021"/>
<circle cx="440.4" cy="328.1" r="3.01" fill="#7b5021"/>
<circle cx="434.3" cy="332.4" r="2.96" fill="#7b5021"/>
<circle cx="436.4" cy="334.2" r="3.24" fill="#7b5021"/>
<circle cx="436.7" cy="336.5" r="3.18" fill="#7b5021"/>
<circle cx="438.9" cy="338.3" r="2.95" fill="#7b5021"/>
<circle cx="437.6" cy="340.8" r="3.06" fill="#7b5021"/>
<circle cx="443.9" cy="342.9" r="2.88" fill="#7b5021"/>
<circle cx="440.0" cy="345.8" r="3.14" fill="#7b5021"/>
<circle cx="446.0" cy="345.6" r="3.29" fill="#7b5021"/>
<circle cx="440.8" cy="350.5" r="2.82" fill="#7b5021"/>
<circle cx="447.2" cy="350.3" r="3.23" fill="#7b5021"/>
<circle cx="444.4" cy="353.8" r="2.93" fill="#7b5021"/>
<circle cx="449.0" cy="354.6" r="2.84" fill="#7b5021"/>
<circle cx="449.8" cy="356.3" r="2.84" fill="#7b5021"/>
<circle cx="446.4" cy="359.7" r="3.34" fill="#7b5021"/>
<circle cx="451.6" cy="360.2" r="3.19" fill="#7b5021"/>
<circle cx="452.1" cy="362.4" r="3.25" fill="#7b5021"/>
<circle cx="451.3" cy="364.3" r="2.80" fill="#7b5021"/>
<circle cx="450.7" cy="367.5" r="3.34" fill="#7b5021"/>
<circle cx="454.0" cy="368.1" r="2.93" fill="#7b5021"/>
<circle cx="449.0" cy="372.3" r="2.92" fill="#7b5021"/>
<circle cx="454.1" cy="372.0" r="2.85" fill="#7b5021"/>
<circle cx="453.1" cy="375.1" r="3.19" fill="#7b5021"/>
<circle cx="457.3" cy="375.1" r="3.09" fill="#7b5021"/>
<circle cx="456.2" cy="378.5" r="3.14" fill="#7b5021"/>
<circle cx="459.3" cy="379.5" r="2.96" fill="#7b5021"/>
<circle cx="457.1" cy="382.3" r="3.34" fill="#7b5021"/>
<circle cx="457.1" cy="384.6" r="3.05" fill="#7b5021"/>
<circle cx="456.8" cy="387.2" r="2.98" fill="#7b5021"/>
<circle cx="461.5" cy="386.5" r="3.01" fill="#7b5021"/>
<circle cx="462.7" cy="389.1" r="3.18" fill="#7b5021"/>
<circle cx="458.4" cy="393.1" r="2.87" fill="#7b5021"/>
<circle cx="463.8" cy="393.3" r="2.86" fill="#7b5021"/>
<circle cx="460.2" cy="396.1" r="3.15" fill="#7b5021"/>
<circle cx="459.5" cy="397.7" r="3.03" fill="#7b5021"/>
<circle cx="462.1" cy="399.9" r="2.96" fill="#7b5021"/>
<circle cx="465.6" cy="401.0" r="2.86" fill="#7b5021"/>
<circle cx="462.9" cy="403.3" r="3.05" fill="#7b5021"/>
<circle cx="468.7" cy="405.0" r="2.98" fill="#7b5021"/>
<circle cx="462.1" cy="407.9" r="3.27" fill="#7b5021"/>
<circle cx="466.1" cy="409.8" r="2.86" fill="#7b5021"/>
<circle cx="468.7" cy="410.9" r="2.82" fill="#7b5021"/>
<circle cx="468.7" cy="413.1" r="2.86" fill="#7b5021"/>
<circle cx="464.1" cy="416.2" r="3.37" fill="#7b5021"/>
<circle cx="471.0" cy="416.7" r="3.26" fill="#7b5021"/>
<circle cx="468.0" cy="419.2" r="2.85" fill="#7b5021"/>
<circle cx="468.6" cy="422.1" r="3.06" fill="#7b5021"/>
<circle cx="436.3" cy="272.3" r="3.38" fill="#7b5021"/>
<circle cx="439.0" cy="274.4" r="3.11" fill="#7b5021"/>
<circle cx="437.6" cy="277.0" r="3.18" fill="#7b5021"/>
<circle cx="438.1" cy="279.0" r="3.29" fill="#7b5021"/>
<circle cx="439.6" cy="280.6" r="2.83" fill="#7b5021"/>
<circle cx="437.0" cy="283.0" r="3.07" fill="#7b5021"/>
<circle cx="436.1" cy="285.0" r="3.10" fill="#7b5021"/>
<circle cx="434.7" cy="286.4" r="2.95" fill="#7b5021"/>
<circle cx="434.6" cy="288.6" r="3.16" fill="#7b5021"/>
<circle cx="439.1" cy="290.3" r="3.22" fill="#7b5021"/>
<circle cx="439.9" cy="292.9" r="3.40" fill="#7b5021"/>
<circle cx="439.4" cy="294.3" r="2.85" fill="#7b5021"/>
<circle cx="435.7" cy="296.6" r="3.31" fill="#7b5021"/>
<circle cx="435.1" cy="298.3" r="2.86" fill="#7b5021"/>
<circle cx="438.7" cy="300.8" r="3.01" fill="#7b5021"/>
<circle cx="434.9" cy="302.4" r="2.87" fill="#7b5021"/>
<circle cx="438.2" cy="304.9" r="3.16" fill="#7b5021"/>
<circle cx="437.1" cy="306.9" r="3.32" fill="#7b5021"/>
<circle cx="439.0" cy="309.0" r="3.00" fill="#7b5021"/>
<circle cx="440.3" cy="310.9" r="3.05" fill="#7b5021"/>
<circle cx="433.7" cy="313.0" r="2.88" fill="#7b5021"/>
<circle cx="435.6" cy="315.1" r="3.24" fill="#7b5021"/>
<circle cx="434.2" cy="316.6" r="2.99" fill="#7b5021"/>
<circle cx="436.7" cy="319.3" r="3.05" fill="#7b5021"/>
<circle cx="436.8" cy="321.3" r="3.00" fill="#7b5021"/>
<circle cx="438.3" cy="323.1" r="3.23" fill="#7b5021"/>
<circle cx="435.9" cy="324.5" r="2.90" fill="#7b5021"/>
<circle cx="441.7" cy="327.9" r="3.27" fill="#7b5021"/>
<circle cx="434.6" cy="328.7" r="2.83" fill="#7b5021"/>
<circle cx="437.0" cy="331.2" r="2.87" fill="#7b5021"/>
<circle cx="432.7" cy="332.0" r="3.31" fill="#7b5021"/>
<circle cx="433.4" cy="334.3" r="3.19" fill="#7b5021"/>
<circle cx="434.3" cy="336.9" r="2.94" fill="#7b5021"/>
<circle cx="438.8" cy="340.0" r="3.19" fill="#7b5021"/>
<circle cx="432.5" cy="341.0" r="3.10" fill="#7b5021"/>
<circle cx="435.5" cy="343.7" r="3.24" fill="#7b5021"/>
<circle cx="432.9" cy="345.4" r="3.25" fill="#7b5021"/>
<circle cx="432.3" cy="347.7" r="2.84" fill="#7b5021"/>
<circle cx="431.2" cy="349.7" r="2.89" fill="#7b5021"/>
<circle cx="437.9" cy="351.2" r="3.26" fill="#7b5021"/>
<circle cx="434.5" cy="353.6" r="3.06" fill="#7b5021"/>
<circle cx="434.6" cy="356.5" r="3.11" fill="#7b5021"/>
<circle cx="432.1" cy="358.0" r="3.26" fill="#7b5021"/>
<circle cx="432.0" cy="360.8" r="3.17" fill="#7b5021"/>
<circle cx="432.0" cy="363.0" r="3.17" fill="#7b5021"/>
<circle cx="431.8" cy="364.4" r="3.39" fill="#7b5021"/>
<circle cx="438.5" cy="366.3" r="3.00" fill="#7b5021"/>
<circle cx="436.2" cy="368.5" r="2.85" fill="#7b5021"/>
<circle cx="439.2" cy="371.4" r="3.06" fill="#7b5021"/>
<circle cx="433.2" cy="372.8" r="3.03" fill="#7b5021"/>
<circle cx="431.1" cy="374.6" r="3.34" fill="#7b5021"/>
<circle cx="436.6" cy="378.0" r="3.04" fill="#7b5021"/>
<circle cx="434.8" cy="379.7" r="2.82" fill="#7b5021"/>
<circle cx="431.7" cy="381.5" r="3.22" fill="#7b5021"/>
<circle cx="432.0" cy="384.1" r="3.26" fill="#7b5021"/>
<circle cx="429.8" cy="386.0" r="3.28" fill="#7b5021"/>
<circle cx="431.6" cy="387.9" r="3.19" fill="#7b5021"/>
<circle cx="430.9" cy="390.5" r="3.07" fill="#7b5021"/>
<circle cx="433.7" cy="392.3" r="2.95" fill="#7b5021"/>
<circle cx="429.9" cy="394.5" r="2.92" fill="#7b5021"/>
<circle cx="429.0" cy="396.2" r="3.02" fill="#7b5021"/>
<circle cx="430.6" cy="398.2" r="3.02" fill="#7b5021"/>
<circle cx="432.7" cy="400.8" r="2.80" fill="#7b5021"/>
<circle cx="431.2" cy="402.6" r="2.86" fill="#7b5021"/>
<circle cx="429.8" cy="404.4" r="3.37" fill="#7b5021"/>
<circle cx="431.0" cy="407.6" r="3.35" fill="#7b5021"/>
<circle cx="432.2" cy="409.2" r="2.80" fill="#7b5021"/>
<circle cx="428.2" cy="410.5" r="3.25" fill="#7b5021"/>
<circle cx="426.2" cy="412.7" r="3.07" fill="#7b5021"/>
<circle cx="427.2" cy="415.5" r="3.12" fill="#7b5021"/>
<circle cx="428.4" cy="417.1" r="3.06" fill="#7b5021"/>
<circle cx="429.4" cy="420.1" r="2.98" fill="#7b5021"/>
<circle cx="430.3" cy="422.4" r="3.12" fill="#7b5021"/>
<circle cx="459.4" cy="272.5" r="3.16" fill="#7b5021"/>
<circle cx="459.3" cy="274.5" r="3.04" fill="#7b5021"/>
<circle cx="458.8" cy="276.9" r="3.27" fill="#7b5021"/>
<circle cx="460.7" cy="278.5" r="2.87" fill="#7b5021"/>
<circle cx="465.8" cy="279.6" r="3.18" fill="#7b5021"/>
<circle cx="462.1" cy="283.0" r="2.82" fill="#7b5021"/>
<circle cx="463.7" cy="284.2" r="3.07" fill="#7b5021"/>
<circle cx="465.6" cy="285.5" r="3.07" fill="#7b5021"/>
<circle cx="463.0" cy="288.1" r="2.95" fill="#7b5021"/>
<circle cx="468.0" cy="289.2" r="2.98" fill="#7b5021"/>
<circle cx="467.1" cy="292.2" r="2.86" fill="#7b5021"/>
<circle cx="462.4" cy="295.0" r="2.85" fill="#7b5021"/>
<circle cx="468.7" cy="295.4" r="3.21" fill="#7b5021"/>
<circle cx="470.2" cy="297.4" r="3.32" fill="#7b5021"/>
<circle cx="466.3" cy="300.8" r="3.07" fill="#7b5021"/>
<circle cx="472.0" cy="302.1" r="2.94" fill="#7b5021"/>
<circle cx="470.8" cy="304.0" r="3.29" fill="#7b5021"/>
<circle cx="470.9" cy="306.6" r="3.10" fill="#7b5021"/>
<circle cx="470.0" cy="309.6" r="3.07" fill="#7b5021"/>
<circle cx="470.2" cy="311.6" r="3.04" fill="#7b5021"/>
<circle cx="474.3" cy="312.4" r="3.06" fill="#7b5021"/>
<circle cx="473.6" cy="315.1" r="3.02" fill="#7b5021"/>
<circle cx="471.8" cy="317.3" r="2.91" fill="#7b5021"/>
<circle cx="471.1" cy="319.4" r="2.82" fill="#7b5021"/>
<circle cx="471.4" cy="321.1" r="3.34" fill="#7b5021"/>
<circle cx="477.1" cy="321.7" r="3.18" fill="#7b5021"/>
<circle cx="473.1" cy="324.8" r="2.82" fill="#7b5021"/>
<circle cx="477.2" cy="326.7" r="3.00" fill="#7b5021"/>
<circle cx="474.7" cy="329.3" r="3.31" fill="#7b5021"/>
<circle cx="474.0" cy="331.6" r="3.31" fill="#7b5021"/>
<circle cx="475.3" cy="332.9" r="2.99" fill="#7b5021"/>
<circle cx="478.4" cy="335.2" r="3.33" fill="#7b5021"/>
<circle cx="473.2" cy="337.5" r="3.37" fill="#7b5021"/>
<circle cx="476.6" cy="339.8" r="3.31" fill="#7b5021"/>
<circle cx="478.9" cy="341.8" r="3.25" fill="#7b5021"/>
<circle cx="476.5" cy="343.8" r="2.97" fill="#7b5021"/>
<circle cx="477.1" cy="345.3" r="3.36" fill="#7b5021"/>
<circle cx="478.8" cy="347.4" r="3.17" fill="#7b5021"/>
<circle cx="476.4" cy="350.1" r="3.07" fill="#7b5021"/>
<circle cx="481.3" cy="351.2" r="3.29" fill="#7b5021"/>
<circle cx="480.1" cy="354.0" r="3.10" fill="#7b5021"/>
<circle cx="478.4" cy="356.4" r="3.34" fill="#7b5021"/>
<circle cx="480.4" cy="358.4" r="3.00" fill="#7b5021"/>
<circle cx="481.9" cy="360.2" r="3.36" fill="#7b5021"/>
<circle cx="479.5" cy="362.2" r="2.96" fill="#7b5021"/>
<circle cx="483.6" cy="364.1" r="2.93" fill="#7b5021"/>
<circle cx="478.2" cy="367.8" r="2.93" fill="#7b5021"/>
<circle cx="484.5" cy="368.3" r="2.87" fill="#7b5021"/>
<circle cx="477.5" cy="369.1" r="2.99" fill="#7b5021"/>
<circle cx="483.2" cy="374.3" r="2.87" fill="#7b5021"/>
<circle cx="477.0" cy="374.5" r="3.35" fill="#7b5021"/>
<circle cx="475.8" cy="376.1" r="2.95" fill="#7b5021"/>
<circle cx="478.9" cy="379.2" r="2.84" fill="#7b5021"/>
<circle cx="474.7" cy="379.5" r="3.09" fill="#7b5021"/>
<circle cx="476.8" cy="382.7" r="3.31" fill="#7b5021"/>
<circle cx="472.4" cy="383.9" r="3.24" fill="#7b5021"/>
<circle cx="472.7" cy="386.5" r="3.03" fill="#7b5021"/>
<circle cx="473.5" cy="389.3" r="2.82" fill="#7b5021"/>
<circle cx="471.3" cy="389.6" r="2.87" fill="#7b5021"/>
<circle cx="471.4" cy="392.1" r="3.02" fill="#7b5021"/>
<circle cx="468.0" cy="393.1" r="3.30" fill="#7b5021"/>
<circle cx="466.2" cy="393.9" r="2.99" fill="#7b5021"/>
<circle cx="466.8" cy="396.6" r="3.18" fill="#7b5021"/>
<circle cx="462.3" cy="396.0" r="2.98" fill="#7b5021"/>
<circle cx="466.1" cy="401.1" r="3.15" fill="#7b5021"/>
<circle cx="464.8" cy="402.7" r="2.98" fill="#7b5021"/>
<circle cx="462.7" cy="402.5" r="3.20" fill="#7b5021"/>
<circle cx="461.2" cy="404.6" r="3.24" fill="#7b5021"/>
<circle cx="455.8" cy="404.3" r="2.87" fill="#7b5021"/>
<circle cx="456.5" cy="407.3" r="3.24" fill="#7b5021"/>
<circle cx="454.6" cy="408.6" r="3.18" fill="#7b5021"/>
<circle cx="459.6" cy="413.1" r="2.91" fill="#7b5021"/>
<circle cx="455.4" cy="413.5" r="2.86" fill="#7b5021"/>
<circle cx="456.0" cy="416.3" r="3.09" fill="#7b5021"/>
<circle cx="451.7" cy="416.6" r="2.98" fill="#7b5021"/>
<circle cx="452.6" cy="419.3" r="3.19" fill="#7b5021"/>
<circle cx="454.4" cy="422.0" r="3.08" fill="#7b5021"/>
<circle cx="485.1" cy="272.7" r="2.88" fill="#7b5021"/>
<circle cx="486.0" cy="274.5" r="2.92" fill="#7b5021"/>
<circle cx="483.2" cy="276.5" r="2.81" fill="#7b5021"/>
<circle cx="488.4" cy="278.4" r="2.82" fill="#7b5021"/>
<circle cx="489.7" cy="280.1" r="3.04" fill="#7b5021"/>
<circle cx="490.6" cy="282.7" r="3.01" fill="#7b5021"/>
<circle cx="486.4" cy="284.9" r="2.81" fill="#7b5021"/>
<circle cx="489.3" cy="286.2" r="3.34" fill="#7b5021"/>
<circle cx="489.7" cy="288.4" r="3.09" fill="#7b5021"/>
<circle cx="490.7" cy="290.0" r="3.20" fill="#7b5021"/>
<circle cx="488.8" cy="292.9" r="3.12" fill="#7b5021"/>
<circle cx="485.6" cy="296.0" r="3.17" fill="#7b5021"/>
<circle cx="489.4" cy="296.4" r="3.20" fill="#7b5021"/>
<circle cx="488.6" cy="299.1" r="3.02" fill="#7b5021"/>
<circle cx="489.8" cy="301.3" r="3.20" fill="#7b5021"/>
<circle cx="489.6" cy="303.9" r="3.23" fill="#7b5021"/>
<circle cx="493.8" cy="304.7" r="3.17" fill="#7b5021"/>
<circle cx="495.6" cy="306.4" r="3.25" fill="#7b5021"/>
<circle cx="492.7" cy="308.9" r="3.11" fill="#7b5021"/>
<circle cx="491.2" cy="311.9" r="3.08" fill="#7b5021"/>
<circle cx="494.2" cy="313.8" r="3.14" fill="#7b5021"/>
<circle cx="495.5" cy="315.8" r="3.23" fill="#7b5021"/>
<circle cx="497.8" cy="317.5" r="3.27" fill="#7b5021"/>
<circle cx="494.6" cy="320.0" r="3.27" fill="#7b5021"/>
<circle cx="498.2" cy="321.8" r="3.09" fill="#7b5021"/>
<circle cx="494.2" cy="324.5" r="3.38" fill="#7b5021"/>
<circle cx="493.7" cy="327.0" r="2.84" fill="#7b5021"/>
<circle cx="493.3" cy="328.6" r="3.37" fill="#7b5021"/>
<circle cx="498.1" cy="330.6" r="3.26" fill="#7b5021"/>
<circle cx="495.6" cy="332.7" r="3.18" fill="#7b5021"/>
<circle cx="495.5" cy="335.3" r="3.38" fill="#7b5021"/>
<circle cx="497.5" cy="336.8" r="3.19" fill="#7b5021"/>
<circle cx="501.2" cy="338.7" r="3.38" fill="#7b5021"/>
<circle cx="497.8" cy="340.9" r="2.83" fill="#7b5021"/>
<circle cx="494.6" cy="343.2" r="2.97" fill="#7b5021"/>
<circle cx="495.7" cy="345.3" r="2.94" fill="#7b5021"/>
<circle cx="497.8" cy="347.7" r="3.34" fill="#7b5021"/>
<circle cx="499.9" cy="349.5" r="2.96" fill="#7b5021"/>
<circle cx="502.6" cy="351.4" r="2.87" fill="#7b5021"/>
<circle cx="500.3" cy="353.5" r="3.26" fill="#7b5021"/>
<circle cx="500.1" cy="356.5" r="2.95" fill="#7b5021"/>
<circle cx="498.0" cy="358.1" r="3.09" fill="#7b5021"/>
<circle cx="499.0" cy="360.0" r="2.96" fill="#7b5021"/>
<circle cx="497.1" cy="362.3" r="2.86" fill="#7b5021"/>
<circle cx="497.4" cy="364.8" r="3.13" fill="#7b5021"/>
<circle cx="501.1" cy="367.1" r="3.37" fill="#7b5021"/>
<circle cx="496.6" cy="368.7" r="3.05" fill="#7b5021"/>
<circle cx="501.8" cy="370.3" r="3.39" fill="#7b5021"/>
<circle cx="498.4" cy="373.7" r="3.29" fill="#7b5021"/>
<circle cx="502.0" cy="374.7" r="3.08" fill="#7b5021"/>
<circle cx="497.6" cy="378.4" r="2.89" fill="#7b5021"/>
<circle cx="500.7" cy="380.2" r="2.98" fill="#7b5021"/>
<circle cx="501.9" cy="381.3" r="3.11" fill="#7b5021"/>
<circle cx="503.2" cy="383.7" r="3.37" fill="#7b5021"/>
<circle cx="503.5" cy="385.8" r="3.27" fill="#7b5021"/>
<circle cx="502.8" cy="387.8" r="2.86" fill="#7b5021"/>
<circle cx="498.5" cy="390.6" r="3.17" fill="#7b5021"/>
<circle cx="501.4" cy="392.7" r="3.20" fill="#7b5021"/>
<circle cx="504.1" cy="394.5" r="2.89" fill="#7b5021"/>
<circle cx="506.3" cy="395.7" r="3.04" fill="#7b5021"/>
<circle cx="502.3" cy="398.5" r="3.00" fill="#7b5021"/>
<circle cx="505.6" cy="400.3" r="3.10" fill="#7b5021"/>
<circle cx="501.7" cy="403.1" r="3.09" fill="#7b5021"/>
<circle cx="508.1" cy="403.9" r="3.33" fill="#7b5021"/>
<circle cx="507.0" cy="406.8" r="3.23" fill="#7b5021"/>
<circle cx="502.6" cy="409.2" r="3.36" fill="#7b5021"/>
<circle cx="509.7" cy="410.6" r="3.06" fill="#7b5021"/>
<circle cx="505.9" cy="413.7" r="2.93" fill="#7b5021"/>
<circle cx="510.3" cy="414.3" r="3.11" fill="#7b5021"/>
<circle cx="507.7" cy="416.9" r="3.34" fill="#7b5021"/>
<circle cx="507.9" cy="419.8" r="3.27" fill="#7b5021"/>
<circle cx="504.5" cy="421.7" r="3.32" fill="#7b5021"/>
<circle cx="496.8" cy="271.4" r="2.98" fill="#7b5021"/>
<circle cx="500.2" cy="275.4" r="3.35" fill="#7b5021"/>
<circle cx="494.9" cy="275.5" r="3.24" fill="#7b5021"/>
<circle cx="499.4" cy="278.5" r="3.19" fill="#7b5021"/>
<circle cx="495.4" cy="280.2" r="2.82" fill="#7b5021"/>
<circle cx="497.4" cy="282.5" r="2.90" fill="#7b5021"/>
<circle cx="495.4" cy="283.8" r="3.02" fill="#7b5021"/>
<circle cx="495.5" cy="286.1" r="3.37" fill="#7b5021"/>
<circle cx="492.1" cy="287.4" r="3.36" fill="#7b5021"/>
<circle cx="490.7" cy="288.5" r="2.86" fill="#7b5021"/>
<circle cx="490.9" cy="291.0" r="3.25" fill="#7b5021"/>
<circle cx="492.1" cy="294.0" r="3.23" fill="#7b5021"/>
<circle cx="493.2" cy="297.0" r="2.93" fill="#7b5021"/>
<circle cx="493.4" cy="299.1" r="3.37" fill="#7b5021"/>
<circle cx="489.8" cy="300.2" r="3.05" fill="#7b5021"/>
<circle cx="486.1" cy="299.5" r="3.10" fill="#7b5021"/>
<circle cx="484.4" cy="300.7" r="3.36" fill="#7b5021"/>
<circle cx="486.3" cy="304.1" r="2.93" fill="#7b5021"/>
<circle cx="485.6" cy="306.7" r="2.98" fill="#7b5021"/>
<circle cx="483.0" cy="307.1" r="3.10" fill="#7b5021"/>
<circle cx="481.3" cy="308.5" r="3.08" fill="#7b5021"/>
<circle cx="481.1" cy="311.8" r="3.28" fill="#7b5021"/>
<circle cx="478.6" cy="312.6" r="3.15" fill="#7b5021"/>
<circle cx="476.7" cy="313.7" r="2.92" fill="#7b5021"/>
<circle cx="478.9" cy="317.9" r="2.81" fill="#7b5021"/>
<circle cx="476.3" cy="319.0" r="2.95" fill="#7b5021"/>
<circle cx="477.7" cy="320.9" r="3.20" fill="#7b5021"/>
<circle cx="473.6" cy="321.7" r="3.21" fill="#7b5021"/>
<circle cx="470.5" cy="323.1" r="2.93" fill="#7b5021"/>
<circle cx="473.2" cy="327.0" r="3.15" fill="#7b5021"/>
<circle cx="471.7" cy="328.2" r="3.33" fill="#7b5021"/>
<circle cx="467.7" cy="328.5" r="2.88" fill="#7b5021"/>
<circle cx="469.7" cy="332.2" r="3.17" fill="#7b5021"/>
<circle cx="468.5" cy="333.8" r="2.96" fill="#7b5021"/>
<circle cx="463.1" cy="333.0" r="3.19" fill="#7b5021"/>
<circle cx="465.0" cy="336.5" r="3.19" fill="#7b5021"/>
<circle cx="467.5" cy="340.0" r="2.87" fill="#7b5021"/>
<circle cx="462.7" cy="339.9" r="3.39" fill="#7b5021"/>
<circle cx="459.9" cy="340.6" r="3.39" fill="#7b5021"/>
<circle cx="461.9" cy="344.0" r="3.08" fill="#7b5021"/>
<circle cx="458.5" cy="344.6" r="3.15" fill="#7b5021"/>
<circle cx="456.4" cy="345.8" r="3.12" fill="#7b5021"/>
<circle cx="458.4" cy="349.7" r="3.15" fill="#7b5021"/>
<circle cx="460.9" cy="352.7" r="2.88" fill="#7b5021"/>
<circle cx="458.4" cy="354.2" r="2.88" fill="#7b5021"/>
<circle cx="454.6" cy="355.2" r="3.26" fill="#7b5021"/>
<circle cx="458.6" cy="358.6" r="3.26" fill="#7b5021"/>
<circle cx="453.9" cy="358.9" r="3.22" fill="#7b5021"/>
<circle cx="458.0" cy="362.8" r="3.15" fill="#7b5021"/>
<circle cx="452.7" cy="363.7" r="3.39" fill="#7b5021"/>
<circle cx="451.1" cy="364.8" r="3.06" fill="#7b5021"/>
<circle cx="453.3" cy="368.4" r="2.94" fill="#7b5021"/>
<circle cx="450.3" cy="369.2" r="3.35" fill="#7b5021"/>
<circle cx="450.3" cy="371.5" r="3.19" fill="#7b5021"/>
<circle cx="450.2" cy="373.7" r="2.96" fill="#7b5021"/>
<circle cx="449.5" cy="375.6" r="2.82" fill="#7b5021"/>
<circle cx="449.2" cy="377.1" r="3.21" fill="#7b5021"/>
<circle cx="447.2" cy="379.0" r="3.29" fill="#7b5021"/>
<circle cx="447.6" cy="381.0" r="3.25" fill="#7b5021"/>
<circle cx="446.1" cy="383.0" r="3.33" fill="#7b5021"/>
<circle cx="444.8" cy="383.9" r="3.31" fill="#7b5021"/>
<circle cx="446.2" cy="387.6" r="3.28" fill="#7b5021"/>
<circle cx="440.0" cy="387.3" r="3.00" fill="#7b5021"/>
<circle cx="441.7" cy="390.0" r="3.39" fill="#7b5021"/>
<circle cx="443.2" cy="392.2" r="2.87" fill="#7b5021"/>
<circle cx="445.1" cy="395.2" r="3.31" fill="#7b5021"/>
<circle cx="443.8" cy="396.4" r="3.37" fill="#7b5021"/>
<circle cx="438.8" cy="397.5" r="3.01" fill="#7b5021"/>
<circle cx="441.3" cy="400.0" r="3.39" fill="#7b5021"/>
<circle cx="436.7" cy="400.8" r="3.33" fill="#7b5021"/>
<circle cx="440.9" cy="404.6" r="3.24" fill="#7b5021"/>
<circle cx="437.8" cy="406.1" r="2.93" fill="#7b5021"/>
<circle cx="434.6" cy="407.1" r="3.15" fill="#7b5021"/>
<circle cx="440.0" cy="410.1" r="3.18" fill="#7b5021"/>
<circle cx="441.1" cy="412.4" r="3.02" fill="#7b5021"/>
<circle cx="436.7" cy="413.6" r="2.84" fill="#7b5021"/>
<circle cx="434.7" cy="415.4" r="2.99" fill="#7b5021"/>
<circle cx="435.3" cy="417.7" r="3.27" fill="#7b5021"/>
<circle cx="433.9" cy="419.4" r="3.14" fill="#7b5021"/>
<circle cx="437.4" cy="422.7" r="2.87" fill="#7b5021"/>
<circle cx="507.3" cy="272.5" r="2.80" fill="#7b5021"/>
<circle cx="508.7" cy="275.0" r="3.31" fill="#7b5021"/>
<circle cx="510.3" cy="277.2" r="2.87" fill="#7b5021"/>
<circle cx="507.3" cy="279.0" r="3.08" fill="#7b5021"/>
<circle cx="509.8" cy="281.1" r="3.36" fill="#7b5021"/>
<circle cx="510.6" cy="283.7" r="3.39" fill="#7b5021"/>
<circle cx="510.4" cy="286.4" r="2.92" fill="#7b5021"/>
<circle cx="508.5" cy="288.0" r="3.08" fill="#7b5021"/>
<circle cx="509.1" cy="290.3" r="3.16" fill="#7b5021"/>
<circle cx="509.2" cy="292.0" r="3.13" fill="#7b5021"/>
<circle cx="503.5" cy="293.8" r="2.89" fill="#7b5021"/>
<circle cx="508.3" cy="296.8" r="3.01" fill="#7b5021"/>
<circle cx="507.8" cy="298.0" r="3.39" fill="#7b5021"/>
<circle cx="503.4" cy="300.0" r="3.39" fill="#7b5021"/>
<circle cx="508.4" cy="302.9" r="3.06" fill="#7b5021"/>
<circle cx="507.7" cy="304.4" r="3.00" fill="#7b5021"/>
<circle cx="504.1" cy="306.2" r="3.11" fill="#7b5021"/>
<circle cx="507.3" cy="308.7" r="2.89" fill="#7b5021"/>
<circle cx="505.7" cy="310.5" r="2.84" fill="#7b5021"/>
<circle cx="506.9" cy="313.2" r="3.26" fill="#7b5021"/>
<circle cx="501.9" cy="314.6" r="3.37" fill="#7b5021"/>
<circle cx="506.5" cy="318.3" r="3.36" fill="#7b5021"/>
<circle cx="501.0" cy="319.4" r="3.08" fill="#7b5021"/>
<circle cx="505.7" cy="322.3" r="3.25" fill="#7b5021"/>
<circle cx="500.5" cy="323.8" r="3.22" fill="#7b5021"/>
<circle cx="506.9" cy="327.1" r="2.96" fill="#7b5021"/>
<circle cx="503.9" cy="328.7" r="3.15" fill="#7b5021"/>
<circle cx="502.8" cy="330.2" r="3.34" fill="#7b5021"/>
<circle cx="500.5" cy="333.0" r="3.21" fill="#7b5021"/>
<circle cx="497.7" cy="334.3" r="3.27" fill="#7b5021"/>
<circle cx="501.4" cy="336.9" r="3.36" fill="#7b5021"/>
<circle cx="500.2" cy="339.0" r="2.98" fill="#7b5021"/>
<circle cx="500.6" cy="341.3" r="3.37" fill="#7b5021"/>
<circle cx="496.2" cy="343.0" r="3.37" fill="#7b5021"/>
<circle cx="503.2" cy="345.5" r="3.00" fill="#7b5021"/>
<circle cx="498.9" cy="347.6" r="2.95" fill="#7b5021"/>
<circle cx="501.0" cy="349.3" r="2.88" fill="#7b5021"/>
<circle cx="496.7" cy="350.6" r="2.92" fill="#7b5021"/>
<circle cx="497.3" cy="352.9" r="2.88" fill="#7b5021"/>
<circle cx="496.6" cy="355.5" r="3.33" fill="#7b5021"/>
<circle cx="495.5" cy="357.3" r="2.96" fill="#7b5021"/>
<circle cx="498.0" cy="359.6" r="3.04" fill="#7b5021"/>
<circle cx="497.0" cy="362.0" r="3.28" fill="#7b5021"/>
<circle cx="499.4" cy="364.3" r="2.93" fill="#7b5021"/>
<circle cx="493.5" cy="365.2" r="2.94" fill="#7b5021"/>
<circle cx="496.4" cy="367.5" r="3.08" fill="#7b5021"/>
<circle cx="491.7" cy="368.8" r="3.16" fill="#7b5021"/>
<circle cx="495.9" cy="371.6" r="3.10" fill="#7b5021"/>
<circle cx="495.1" cy="373.5" r="2.84" fill="#7b5021"/>
<circle cx="490.9" cy="375.2" r="3.34" fill="#7b5021"/>
<circle cx="494.3" cy="378.0" r="3.14" fill="#7b5021"/>
<circle cx="495.6" cy="380.2" r="3.12" fill="#7b5021"/>
<circle cx="495.0" cy="382.2" r="3.07" fill="#7b5021"/>
<circle cx="491.1" cy="383.9" r="3.00" fill="#7b5021"/>
<circle cx="491.0" cy="385.4" r="3.13" fill="#7b5021"/>
<circle cx="491.9" cy="387.7" r="3.04" fill="#7b5021"/>
<circle cx="488.3" cy="389.5" r="3.02" fill="#7b5021"/>
<circle cx="490.4" cy="391.9" r="3.20" fill="#7b5021"/>
<circle cx="492.6" cy="394.1" r="3.35" fill="#7b5021"/>
<circle cx="488.8" cy="395.4" r="2.96" fill="#7b5021"/>
<circle cx="490.2" cy="398.1" r="2.94" fill="#7b5021"/>
<circle cx="486.0" cy="400.3" r="2.82" fill="#7b5021"/>
<circle cx="488.1" cy="402.2" r="3.02" fill="#7b5021"/>
<circle cx="488.1" cy="404.4" r="3.39" fill="#7b5021"/>
<circle cx="489.0" cy="406.4" r="3.04" fill="#7b5021"/>
<circle cx="490.3" cy="409.3" r="3.34" fill="#7b5021"/>
<circle cx="494.2" cy="410.5" r="3.07" fill="#7b5021"/>
<circle cx="494.4" cy="412.7" r="2.85" fill="#7b5021"/>
<circle cx="488.6" cy="416.0" r="3.19" fill="#7b5021"/>
<circle cx="490.6" cy="416.9" r="3.39" fill="#7b5021"/>
<circle cx="490.9" cy="419.8" r="3.06" fill="#7b5021"/>
<circle cx="489.5" cy="422.0" r="3.10" fill="#7b5021"/>
<circle cx="521.6" cy="301.1" r="3.37" fill="#7b5021"/>
<circle cx="514.8" cy="301.4" r="2.89" fill="#7b5021"/>
<circle cx="516.2" cy="303.4" r="3.06" fill="#7b5021"/>
<circle cx="518.7" cy="307.0" r="3.26" fill="#7b5021"/>
<circle cx="514.1" cy="307.8" r="3.06" fill="#7b5021"/>
<circle cx="516.0" cy="310.4" r="3.08" fill="#7b5021"/>
<circle cx="514.8" cy="311.9" r="3.38" fill="#7b5021"/>
<circle cx="516.4" cy="315.2" r="3.20" fill="#7b5021"/>
<circle cx="514.1" cy="316.6" r="3.33" fill="#7b5021"/>
<circle cx="515.4" cy="319.4" r="3.18" fill="#7b5021"/>
<circle cx="511.9" cy="319.7" r="3.13" fill="#7b5021"/>
<circle cx="509.5" cy="321.5" r="3.33" fill="#7b5021"/>
<circle cx="507.7" cy="322.2" r="3.04" fill="#7b5021"/>
<circle cx="506.7" cy="324.0" r="3.15" fill="#7b5021"/>
<circle cx="505.1" cy="325.6" r="3.09" fill="#7b5021"/>
<circle cx="503.3" cy="327.6" r="3.00" fill="#7b5021"/>
<circle cx="505.5" cy="331.0" r="2.97" fill="#7b5021"/>
<circle cx="501.6" cy="331.3" r="3.22" fill="#7b5021"/>
<circle cx="502.8" cy="334.0" r="3.17" fill="#7b5021"/>
<path d="M364.4,272 L366.1,293.6 L367,312.4 L368.7,332.9 L370.4,370.6 L371.2,396.2 L370.4,423" fill="none" stroke="#6c9a68" stroke-width="2.5" stroke-dasharray="5.2,6.4,5.3,6.9,5.3,7.1,4.8,3.9,5.0,3.6,8.2,8.0,5.5,4.2,8.3,7.3,4.5,4.5,6.0,3.7,4.3,5.0,3.7,3.7,6.6,4.5,8.5,7.8" stroke-dashoffset="6.7"/>
<path d="M365.2,275 L373.8,293.6 L380.6,307.3 L387.4,319.2 L396,336.3 L401.1,345 L404.5,367.2 L418.2,392.8 L426.7,423" fill="none" stroke="#6c9a68" stroke-width="2.5" stroke-dasharray="4.6,6.8,5.0,7.3,5.5,6.5,7.5,6.5,7.5,4.7,3.9,4.8,8.8,3.2,4.7,4.5,5.6,7.4,4.0,3.5,3.1,4.7,7.4,5.3,6.9,5.6,5.2,5.0" stroke-dashoffset="0.4"/>
<path d="M395.1,272 L390.9,290.2 L387.4,305.6 L384,324.4 L380.6,343.1 L375.5,365.5 L373.8,387.7 L365.2,423" fill="none" stroke="#6c9a68" stroke-width="2.5" stroke-dasharray="8.7,6.7,3.6,4.0,7.7,5.5,7.5,6.8,3.9,7.1,4.2,3.7,7.5,7.1,4.8,4.9,7.4,4.5,5.7,8.0,3.8,7.7,8.3,8.0,4.5,4.0,5.6,3.9" stroke-dashoffset="9.2"/>
<path d="M416.5,272 L416.5,293.6 L413.1,309 L409.6,326 L407.9,345 L402.8,374 L397.7,396.2 L394.3,423" fill="none" stroke="#6c9a68" stroke-width="2.5" stroke-dasharray="6.4,7.2,5.9,5.5,8.7,3.6,4.4,7.3,6.5,6.9,9.0,6.9,6.7,6.8,6.2,4.1,5.0,7.6,6.2,3.2,6.8,8.0,6.8,5.5,5.7,6.2,6.7,5.4" stroke-dashoffset="9.0"/>
<path d="M419.9,272 L426.7,293.6 L430.1,307.3 L435.3,322.6 L440.4,339.7 L441.8,345 L452.1,370.6 L462.3,392.8 L469.2,423" fill="none" stroke="#6c9a68" stroke-width="2.5" stroke-dasharray="8.3,6.9,7.4,6.6,4.2,5.5,4.6,4.0,8.7,4.2,7.9,7.2,5.4,3.1,4.1,6.2,7.3,4.8,6.6,3.8,6.9,6.9,7.7,5.8,6.4,3.0,4.6,5.0" stroke-dashoffset="0.7"/>
<path d="M436.7,272 L436.7,302.2 L438.4,324.4 L433.6,345 L435.3,370.6 L431.8,396.2 L426.7,423" fill="none" stroke="#6c9a68" stroke-width="2.5" stroke-dasharray="3.4,7.8,7.1,5.8,7.1,7.3,6.8,5.1,5.4,7.9,8.7,3.8,7.9,6.2,5.1,6.5,4.6,6.7,6.4,5.9,3.3,7.5,8.7,6.8,4.8,6.6,3.7,5.7" stroke-dashoffset="3.5"/>
<path d="M460.6,272 L465.7,293.6 L470.9,310.7 L474.3,324.4 L476,343.1 L481.1,370.6 L472.6,387.7 L460.6,401.4 L452.1,423" fill="none" stroke="#6c9a68" stroke-width="2.5" stroke-dasharray="5.8,4.4,3.4,5.2,4.4,3.9,5.0,3.6,3.1,7.9,3.3,7.5,5.5,3.6,5.6,5.5,3.3,5.7,3.0,4.5,7.3,7.2,4.1,5.0,8.7,4.6,3.7,4.2" stroke-dashoffset="8.7"/>
<path d="M486.2,272 L487.9,290.2 L493.1,310.7 L496.5,327.8 L498.2,344.8 L499.9,370.6 L503.3,396.2 L508.4,423" fill="none" stroke="#6c9a68" stroke-width="2.5" stroke-dasharray="5.1,6.3,8.6,6.1,4.2,5.4,5.0,5.4,6.7,7.9,7.1,5.5,7.9,5.5,4.2,6.4,4.6,4.1,5.3,5.4,3.2,4.8,8.8,5.5,5.2,5.3,7.2,5.5" stroke-dashoffset="4.0"/>
<path d="M499.9,272 L491.4,295.3 L482.8,309 L474.3,319.2 L465.7,336.3 L460.6,345 L452.1,367.2 L443.5,387.7 L436.7,413.3 L434,423" fill="none" stroke="#6c9a68" stroke-width="2.5" stroke-dasharray="6.5,4.4,7.1,5.1,7.2,4.7,6.8,4.0,5.9,5.5,3.1,3.6,5.8,6.8,7.9,7.2,7.8,7.8,4.2,3.8,3.8,7.0,4.1,4.6,3.8,7.5,4.3,4.2" stroke-dashoffset="5.9"/>
<path d="M510.1,272 L506.7,293.6 L505,312.4 L503.3,326 L499.9,344.8 L493.1,379.2 L489.6,399.6 L493.1,423" fill="none" stroke="#6c9a68" stroke-width="2.5" stroke-dasharray="7.2,3.2,6.5,5.6,6.3,5.6,7.8,7.1,8.2,4.7,3.3,5.4,3.2,6.2,5.9,6.7,8.0,6.7,7.2,4.7,7.4,6.2,4.3,7.3,5.8,5.7,4.2,7.2" stroke-dashoffset="4.7"/>
<path d="M519,300 L511.8,319.2 L503.3,336.3" fill="none" stroke="#6c9a68" stroke-width="2.5" stroke-dasharray="7.5,7.2,6.1,5.9,5.8,4.2,7.8,7.6,3.2,3.2,5.8,3.4,5.6,4.7,4.4,6.9,6.5,7.6,4.2,4.9,6.7,6.9,5.6,3.9,5.3,5.8,8.8,6.3" stroke-dashoffset="8.4"/>
</g>
<text x="361.9" y="444" font-size="12.3" textLength="157.3" lengthAdjust="spacingAndGlyphs">Nanoparticles combined with</text>
<text x="375.9" y="457.6" font-size="12.3" textLength="129.2" lengthAdjust="spacingAndGlyphs">silk for anti-UV property</text>
<g id="molrow"><polygon points="347,48.3 389.3,40.2 389.3,69.2 347,76.7" fill="#e2e2e2"/>
<polygon points="389.3,40.2 436,47.3 436,75.6 389.3,65.8" fill="#d6dff3"/>
<polygon points="436,46.8 478,40 478,69.6 436,75.8" fill="#e2e2e2"/>
<polygon points="478,37.2 525,45.8 525,73.8 478,66" fill="#f8d9c2"/>
<line x1="351.7" y1="58.3" x2="359.20" y2="59.15" stroke="#4a5ab0" stroke-width="2.7"/>
<line x1="359.20" y1="59.15" x2="366.7" y2="60" stroke="#8a8a8a" stroke-width="2.7"/>
<line x1="366.7" y1="60" x2="374.60" y2="57.50" stroke="#8a8a8a" stroke-width="2.7"/>
<line x1="374.60" y1="57.50" x2="382.5" y2="55" stroke="#8a8a8a" stroke-width="2.7"/>
<line x1="382.5" y1="55" x2="390.40" y2="57.90" stroke="#8a8a8a" stroke-width="2.7"/>
<line x1="390.40" y1="57.90" x2="398.3" y2="60.8" stroke="#4a5ab0" stroke-width="2.7"/>
<line x1="398.3" y1="60.8" x2="405.55" y2="58.25" stroke="#4a5ab0" stroke-width="2.7"/>
<line x1="405.55" y1="58.25" x2="412.8" y2="55.7" stroke="#8e9cb0" stroke-width="2.7"/>
<line x1="412.8" y1="55.7" x2="420.30" y2="59.25" stroke="#8e9cb0" stroke-width="2.7"/>
<line x1="420.30" y1="59.25" x2="427.8" y2="62.8" stroke="#7e8ca0" stroke-width="2.7"/>
<line x1="427.8" y1="62.8" x2="434.75" y2="57.65" stroke="#7e8ca0" stroke-width="2.7"/>
<line x1="434.75" y1="57.65" x2="441.7" y2="52.5" stroke="#4a5ab0" stroke-width="2.7"/>
<line x1="441.7" y1="52.5" x2="449.20" y2="56.25" stroke="#4a5ab0" stroke-width="2.7"/>
<line x1="449.20" y1="56.25" x2="456.7" y2="60" stroke="#8a8a8a" stroke-width="2.7"/>
<line x1="456.7" y1="60" x2="464.60" y2="57.50" stroke="#8a8a8a" stroke-width="2.7"/>
<line x1="464.60" y1="57.50" x2="472.5" y2="55" stroke="#8a8a8a" stroke-width="2.7"/>
<line x1="472.5" y1="55" x2="480.00" y2="57.50" stroke="#8a8a8a" stroke-width="2.7"/>
<line x1="480.00" y1="57.50" x2="487.5" y2="60" stroke="#6a4aa0" stroke-width="2.7"/>
<line x1="487.5" y1="60" x2="495.00" y2="57.90" stroke="#6a4aa0" stroke-width="2.7"/>
<line x1="495.00" y1="57.90" x2="502.5" y2="55.8" stroke="#a08a78" stroke-width="2.7"/>
<line x1="502.5" y1="55.8" x2="510.00" y2="59.15" stroke="#a08a78" stroke-width="2.7"/>
<line x1="510.00" y1="59.15" x2="517.5" y2="62.5" stroke="#a08a78" stroke-width="2.7"/>
<line x1="351.7" y1="58.3" x2="351.50" y2="51.40" stroke="#4a5ab0" stroke-width="2.7"/>
<line x1="351.50" y1="51.40" x2="351.3" y2="44.5" stroke="#b8b8b8" stroke-width="2.7"/>
<line x1="366.7" y1="60" x2="367.95" y2="67.40" stroke="#8a8a8a" stroke-width="2.7"/>
<line x1="367.95" y1="67.40" x2="369.2" y2="74.8" stroke="#b8b8b8" stroke-width="2.7"/>
<line x1="382.5" y1="55" x2="381.25" y2="48.35" stroke="#8a8a8a" stroke-width="2.7"/>
<line x1="381.25" y1="48.35" x2="380" y2="41.7" stroke="#c83a20" stroke-width="2.7"/>
<line x1="398.3" y1="60.8" x2="398.30" y2="65.80" stroke="#4a5ab0" stroke-width="2.7"/>
<line x1="398.30" y1="65.80" x2="398.3" y2="70.8" stroke="#b8b8b8" stroke-width="2.7"/>
<line x1="412.8" y1="55.7" x2="413.25" y2="45.90" stroke="#8e9cb0" stroke-width="2.7"/>
<line x1="413.25" y1="45.90" x2="413.7" y2="36.1" stroke="#8a8a8a" stroke-width="2.7"/>
<line x1="413.7" y1="36.1" x2="408.10" y2="33.25" stroke="#8a8a8a" stroke-width="2.7"/>
<line x1="408.10" y1="33.25" x2="402.5" y2="30.4" stroke="#b8b8b8" stroke-width="2.7"/>
<line x1="413.7" y1="36.1" x2="420.75" y2="32.55" stroke="#8a8a8a" stroke-width="2.7"/>
<line x1="420.75" y1="32.55" x2="427.8" y2="29" stroke="#c83a20" stroke-width="2.7"/>
<line x1="427.8" y1="62.8" x2="428.05" y2="71.80" stroke="#7e8ca0" stroke-width="2.7"/>
<line x1="428.05" y1="71.80" x2="428.3" y2="80.8" stroke="#c83a20" stroke-width="2.7"/>
<line x1="441.7" y1="52.5" x2="441.70" y2="45.40" stroke="#4a5ab0" stroke-width="2.7"/>
<line x1="441.70" y1="45.40" x2="441.7" y2="38.3" stroke="#b8b8b8" stroke-width="2.7"/>
<line x1="456.7" y1="60" x2="456.25" y2="67.10" stroke="#8a8a8a" stroke-width="2.7"/>
<line x1="456.25" y1="67.10" x2="455.8" y2="74.2" stroke="#b8b8b8" stroke-width="2.7"/>
<line x1="472.5" y1="55" x2="471.25" y2="48.35" stroke="#8a8a8a" stroke-width="2.7"/>
<line x1="471.25" y1="48.35" x2="470" y2="41.7" stroke="#c83a20" stroke-width="2.7"/>
<line x1="487.5" y1="60" x2="487.90" y2="65.00" stroke="#6a4aa0" stroke-width="2.7"/>
<line x1="487.90" y1="65.00" x2="488.3" y2="70" stroke="#b8b8b8" stroke-width="2.7"/>
<line x1="502.5" y1="55.8" x2="502.90" y2="45.80" stroke="#a08a78" stroke-width="2.7"/>
<line x1="502.90" y1="45.80" x2="503.3" y2="35.8" stroke="#8a8a8a" stroke-width="2.7"/>
<line x1="503.3" y1="35.8" x2="497.90" y2="33.75" stroke="#8a8a8a" stroke-width="2.7"/>
<line x1="497.90" y1="33.75" x2="492.5" y2="31.7" stroke="#b8b8b8" stroke-width="2.7"/>
<line x1="503.3" y1="35.8" x2="509.55" y2="33.75" stroke="#8a8a8a" stroke-width="2.7"/>
<line x1="509.55" y1="33.75" x2="515.8" y2="31.7" stroke="#b8b8b8" stroke-width="2.7"/>
<line x1="517.5" y1="62.5" x2="516.65" y2="67.50" stroke="#a08a78" stroke-width="2.7"/>
<line x1="516.65" y1="67.50" x2="515.8" y2="72.5" stroke="#c83a20" stroke-width="2.7"/>
<line x1="345.5" y1="59.2" x2="351.7" y2="58.3" stroke="#4a5ab0" stroke-width="2.7"/>
<line x1="517.5" y1="62.5" x2="526" y2="60.2" stroke="#555" stroke-width="2.7"/>
<circle cx="365.8" cy="54.0" r="2.9899999999999998" fill="url(#aH)"/>
<circle cx="456" cy="54.5" r="2.9899999999999998" fill="url(#aH)"/>
<circle cx="414.7" cy="30.4" r="2.9899999999999998" fill="url(#aH)"/>
<circle cx="503.3" cy="29.2" r="2.9899999999999998" fill="url(#aH)"/>
<circle cx="502.5" cy="60.5" r="2.9899999999999998" fill="url(#aHt)"/>
<circle cx="351.7" cy="58.3" r="3.9099999999999997" fill="url(#aN)"/>
<circle cx="351.3" cy="44.5" r="3.2199999999999998" fill="url(#aH)"/>
<circle cx="366.7" cy="60" r="3.7949999999999995" fill="url(#aC)"/>
<circle cx="369.2" cy="74.8" r="3.2199999999999998" fill="url(#aH)"/>
<circle cx="382.5" cy="55" r="3.7949999999999995" fill="url(#aC)"/>
<circle cx="380" cy="41.7" r="3.565" fill="url(#aO)"/>
<circle cx="398.3" cy="60.8" r="3.9099999999999997" fill="url(#aN)"/>
<circle cx="398.3" cy="70.8" r="3.105" fill="url(#aH)"/>
<circle cx="412.8" cy="55.7" r="4.0249999999999995" fill="url(#aCa)"/>
<circle cx="413.7" cy="36.1" r="3.7949999999999995" fill="url(#aC)"/>
<circle cx="402.5" cy="30.4" r="3.2199999999999998" fill="url(#aH)"/>
<circle cx="426.9" cy="33.9" r="3.105" fill="url(#aH)"/>
<circle cx="427.8" cy="29" r="3.6799999999999997" fill="url(#aO)"/>
<circle cx="427.8" cy="62.8" r="3.7949999999999995" fill="url(#aCb)"/>
<circle cx="428.3" cy="80.8" r="3.565" fill="url(#aO)"/>
<circle cx="441.7" cy="52.5" r="3.9099999999999997" fill="url(#aN)"/>
<circle cx="441.7" cy="38.3" r="3.2199999999999998" fill="url(#aH)"/>
<circle cx="456.7" cy="60" r="3.7949999999999995" fill="url(#aC)"/>
<circle cx="455.8" cy="74.2" r="3.2199999999999998" fill="url(#aH)"/>
<circle cx="472.5" cy="55" r="3.7949999999999995" fill="url(#aC)"/>
<circle cx="470" cy="41.7" r="3.565" fill="url(#aO)"/>
<circle cx="487.5" cy="60" r="3.9099999999999997" fill="url(#aNp)"/>
<circle cx="488.3" cy="70" r="3.105" fill="url(#aH)"/>
<circle cx="502.5" cy="55.8" r="3.9099999999999997" fill="url(#aCt)"/>
<circle cx="503.3" cy="35.8" r="3.7949999999999995" fill="url(#aC)"/>
<circle cx="492.5" cy="31.7" r="3.2199999999999998" fill="url(#aH)"/>
<circle cx="515.8" cy="31.7" r="3.2199999999999998" fill="url(#aH)"/>
<circle cx="517.5" cy="62.5" r="3.7949999999999995" fill="url(#aCt)"/>
<circle cx="515.8" cy="72.5" r="3.565" fill="url(#aO)"/>
<g transform="translate(385.90,28.60) rotate(46.70)"><path d="M0.00,0.00 L0.42,0.61 L0.83,1.18 L1.25,1.69 L1.66,2.10 L2.08,2.40 L2.50,2.57 L2.91,2.59 L3.33,2.47 L3.74,2.22 L4.16,1.84 L4.57,1.36 L4.99,0.80 L5.41,0.20 L5.82,-0.41 L6.24,-0.99 L6.65,-1.53 L7.07,-1.98 L7.49,-2.32 L7.90,-2.53 L8.32,-2.60 L8.73,-2.53 L9.15,-2.32 L9.57,-1.98 L9.98,-1.53 L10.40,-0.99 L10.81,-0.41 L11.23,0.20 L11.64,0.80 L12.06,1.36 L12.48,1.84 L12.89,2.22 L13.31,2.47 L13.72,2.59 L14.14,2.57 L14.56,2.40 L14.97,2.10 L15.39,1.69 L15.80,1.18 L16.22,0.61 L16.63,0.00" fill="none" stroke="#6a3cb4" stroke-width="1.4" stroke-linejoin="round"/><path d="M21.43,0 L16.13,3.20 L17.83,0 L16.13,-3.20 Z" fill="#6a3cb4"/></g>
<g transform="translate(350.80,82.50) rotate(-47.90)"><path d="M0.00,0.00 L0.33,0.61 L0.67,1.18 L1.00,1.69 L1.34,2.10 L1.67,2.40 L2.01,2.57 L2.34,2.59 L2.68,2.47 L3.01,2.22 L3.35,1.84 L3.68,1.36 L4.02,0.80 L4.35,0.20 L4.69,-0.41 L5.02,-0.99 L5.36,-1.53 L5.69,-1.98 L6.03,-2.32 L6.36,-2.53 L6.70,-2.60 L7.03,-2.53 L7.37,-2.32 L7.70,-1.98 L8.04,-1.53 L8.37,-0.99 L8.71,-0.41 L9.04,0.20 L9.38,0.80 L9.71,1.36 L10.05,1.84 L10.38,2.22 L10.72,2.47 L11.05,2.59 L11.39,2.57 L11.72,2.40 L12.06,2.10 L12.39,1.69 L12.73,1.18 L13.06,0.61 L13.40,0.00" fill="none" stroke="#6a3cb4" stroke-width="1.4" stroke-linejoin="round"/><path d="M18.20,0 L12.90,3.20 L14.60,0 L12.90,-3.20 Z" fill="#6a3cb4"/></g>
<g transform="translate(408.30,80.80) rotate(-45.70)"><path d="M0.00,0.00 L0.32,0.61 L0.63,1.18 L0.95,1.69 L1.27,2.10 L1.58,2.40 L1.90,2.57 L2.22,2.59 L2.53,2.47 L2.85,2.22 L3.17,1.84 L3.48,1.36 L3.80,0.80 L4.12,0.20 L4.43,-0.41 L4.75,-0.99 L5.07,-1.53 L5.38,-1.98 L5.70,-2.32 L6.02,-2.53 L6.33,-2.60 L6.65,-2.53 L6.97,-2.32 L7.28,-1.98 L7.60,-1.53 L7.92,-0.99 L8.23,-0.41 L8.55,0.20 L8.87,0.80 L9.18,1.36 L9.50,1.84 L9.82,2.22 L10.13,2.47 L10.45,2.59 L10.77,2.57 L11.08,2.40 L11.40,2.10 L11.72,1.69 L12.03,1.18 L12.35,0.61 L12.67,0.00" fill="none" stroke="#6a3cb4" stroke-width="1.4" stroke-linejoin="round"/><path d="M17.47,0 L12.17,3.20 L13.87,0 L12.17,-3.20 Z" fill="#6a3cb4"/></g>
<g transform="translate(460.80,27.50) rotate(111.34)"><path d="M0.00,0.00 L0.40,0.61 L0.79,1.18 L1.19,1.69 L1.58,2.10 L1.98,2.40 L2.37,2.57 L2.77,2.59 L3.16,2.47 L3.56,2.22 L3.95,1.84 L4.35,1.36 L4.74,0.80 L5.14,0.20 L5.53,-0.41 L5.93,-0.99 L6.33,-1.53 L6.72,-1.98 L7.12,-2.32 L7.51,-2.53 L7.91,-2.60 L8.30,-2.53 L8.70,-2.32 L9.09,-1.98 L9.49,-1.53 L9.88,-0.99 L10.28,-0.41 L10.67,0.20 L11.07,0.80 L11.46,1.36 L11.86,1.84 L12.25,2.22 L12.65,2.47 L13.05,2.59 L13.44,2.57 L13.84,2.40 L14.23,2.10 L14.63,1.69 L15.02,1.18 L15.42,0.61 L15.81,0.00" fill="none" stroke="#6a3cb4" stroke-width="1.4" stroke-linejoin="round"/><path d="M20.61,0 L15.31,3.20 L17.01,0 L15.31,-3.20 Z" fill="#6a3cb4"/></g>
<g transform="translate(477.50,79.20) rotate(-131.36)"><path d="M0.00,0.00 L0.35,0.61 L0.71,1.18 L1.06,1.69 L1.41,2.10 L1.76,2.40 L2.12,2.57 L2.47,2.59 L2.82,2.47 L3.18,2.22 L3.53,1.84 L3.88,1.36 L4.24,0.80 L4.59,0.20 L4.94,-0.41 L5.29,-0.99 L5.65,-1.53 L6.00,-1.98 L6.35,-2.32 L6.71,-2.53 L7.06,-2.60 L7.41,-2.53 L7.76,-2.32 L8.12,-1.98 L8.47,-1.53 L8.82,-0.99 L9.18,-0.41 L9.53,0.20 L9.88,0.80 L10.24,1.36 L10.59,1.84 L10.94,2.22 L11.29,2.47 L11.65,2.59 L12.00,2.57 L12.35,2.40 L12.71,2.10 L13.06,1.69 L13.41,1.18 L13.77,0.61 L14.12,0.00" fill="none" stroke="#6a3cb4" stroke-width="1.4" stroke-linejoin="round"/><path d="M18.92,0 L13.62,3.20 L15.32,0 L13.62,-3.20 Z" fill="#6a3cb4"/></g>
<g transform="translate(525.80,28.30) rotate(114.47)"><path d="M0.00,0.00 L0.43,0.61 L0.86,1.18 L1.29,1.69 L1.72,2.10 L2.15,2.40 L2.58,2.57 L3.01,2.59 L3.43,2.47 L3.86,2.22 L4.29,1.84 L4.72,1.36 L5.15,0.80 L5.58,0.20 L6.01,-0.41 L6.44,-0.99 L6.87,-1.53 L7.30,-1.98 L7.73,-2.32 L8.16,-2.53 L8.59,-2.60 L9.02,-2.53 L9.45,-2.32 L9.87,-1.98 L10.30,-1.53 L10.73,-0.99 L11.16,-0.41 L11.59,0.20 L12.02,0.80 L12.45,1.36 L12.88,1.84 L13.31,2.22 L13.74,2.47 L14.17,2.59 L14.60,2.57 L15.03,2.40 L15.46,2.10 L15.88,1.69 L16.31,1.18 L16.74,0.61 L17.17,0.00" fill="none" stroke="#6a3cb4" stroke-width="1.4" stroke-linejoin="round"/><path d="M21.97,0 L16.67,3.20 L18.37,0 L16.67,-3.20 Z" fill="#6a3cb4"/></g></g>
<use href="#molrow" transform="translate(0,62.3)"/>
<use href="#molrow" transform="translate(0,124.6)"/>
<text x="341.3" y="228.9" font-size="12.3" textLength="190.4" lengthAdjust="spacingAndGlyphs">UV absorption of molecular protein</text>
<path d="M110.0,438.1 C111.5,436.1 115.8,430.1 118.8,426.2 C121.7,422.4 124.4,418.1 127.5,415.0 C130.6,411.9 134.2,409.4 137.5,407.5 C140.8,405.6 143.8,404.7 147.5,403.8 C151.2,402.8 153.2,403.1 160.0,401.9 C166.8,400.7 177.2,397.7 188.2,396.5 C199.2,395.3 215.7,394.4 226.0,394.5 C236.3,394.6 242.6,395.1 250.0,396.8 C257.4,398.5 264.0,401.3 270.3,404.9 C276.6,408.5 282.9,413.2 287.9,418.4 C292.9,423.6 298.1,433.1 300.1,436.0 L301.5,436.7 C299.2,435.7 293.1,432.7 287.9,430.6 C282.7,428.5 276.6,425.8 270.3,423.9 C264.0,422.0 261.6,420.3 250.0,419.1 C238.4,417.9 215.8,416.1 200.8,416.5 C185.8,416.9 169.5,419.8 160.0,421.2 C150.5,422.7 149.6,423.3 143.8,425.0 C137.9,426.7 130.6,429.1 125.0,431.2 C119.4,433.4 112.5,437.0 110.0,438.1 Z" fill="url(#sktd)"/>
<path d="M110.0,438.1 C112.5,437.0 119.4,433.4 125.0,431.2 C130.6,429.1 137.9,426.7 143.8,425.0 C149.6,423.3 150.5,422.7 160.0,421.2 C169.5,419.8 185.8,416.9 200.8,416.5 C215.8,416.1 238.4,417.9 250.0,419.1 C261.6,420.3 264.0,422.0 270.3,423.9 C276.6,425.8 282.7,428.5 287.9,430.6 C293.1,432.7 299.2,435.7 301.5,436.7 L298.7,450.9 C296.9,449.8 292.6,446.6 287.9,444.2 C283.2,441.8 276.6,438.8 270.3,436.7 C264.0,434.6 261.6,432.6 250.0,431.3 C238.4,430.0 215.8,428.8 200.8,429.1 C185.8,429.4 169.5,431.6 160.0,433.1 C150.5,434.6 149.6,436.1 143.8,438.1 C137.9,440.1 130.3,442.7 125.0,445.0 C119.7,447.3 114.1,450.8 111.9,451.9 Z" fill="#f3c1b1"/>
<path d="M110.0,438.1 C112.5,437.0 119.4,433.4 125.0,431.2 C130.6,429.1 137.9,426.7 143.8,425.0 C149.6,423.3 150.5,422.7 160.0,421.2 C169.5,419.8 185.8,416.9 200.8,416.5 C215.8,416.1 238.4,417.9 250.0,419.1 C261.6,420.3 264.0,422.0 270.3,423.9 C276.6,425.8 282.7,428.5 287.9,430.6 C293.1,432.7 299.2,435.7 301.5,436.7" fill="none" stroke="#fadfcf" stroke-width="1.3"/>
<path d="M113.9,391.6 C115.1,390.3 118.7,386.7 121.0,384.0 C123.3,381.3 126.0,377.9 128.0,375.5 C130.0,373.1 132.2,370.5 133.0,369.5 C135.9,370.1 143.3,372.3 150.4,373.3 C157.5,374.3 167.2,375.4 175.6,375.3 C184.0,375.2 192.4,374.1 200.8,372.7 C209.2,371.3 217.6,368.5 226.0,367.1 C234.4,365.8 242.8,364.4 251.2,364.6 C259.6,364.8 269.8,366.3 276.5,368.1 C283.2,369.9 287.7,372.4 291.6,375.2 C295.5,378.0 297.9,382.1 300.0,385.0 C302.1,387.9 303.5,391.6 304.2,392.9 C302.9,392.7 301.2,392.7 296.6,391.6 C292.0,390.6 284.1,387.7 276.5,386.6 C268.9,385.6 260.4,384.7 251.2,385.3 C241.9,385.9 229.4,388.2 221.0,390.3 C212.6,392.4 208.4,396.0 200.8,397.9 C193.2,399.8 184.0,401.1 175.6,401.7 C167.2,402.3 158.8,402.3 150.4,401.7 C142.0,401.1 131.3,399.6 125.2,397.9 C119.1,396.2 115.8,392.7 113.9,391.6 Z" fill="#d0d0d5" filter="url(#nzd)"/>
<g transform="translate(134.00,284.00) rotate(-15.53)"><path d="M-5.80,0.00 L5.80,0.00 L5.80,77.22 L-5.80,77.22 Z" fill="url(#rbd0)"/><path d="M9.00,76.72 L0.00,93.72 L-9.00,76.72 Z" fill="url(#rbd0h)"/></g>
<g transform="translate(173.30,373.00) rotate(-163.22)"><path d="M-5.80,0.00 L5.80,0.00 L5.80,79.80 L-5.80,79.80 Z" fill="url(#rbd1)"/><path d="M9.00,79.30 L0.00,96.30 L-9.00,79.30 Z" fill="url(#rbd1h)"/></g>
<path d="M241.5,366.9 C242.9,365.1 247.4,360.3 249.7,356.2 C252.0,352.1 255.0,346.7 255.3,342.2 C255.6,337.7 253.5,333.0 251.7,329.2 C249.9,325.4 246.1,322.4 244.7,319.2 C243.3,316.0 243.2,313.0 243.5,310.2 C243.8,307.4 244.8,304.4 246.2,302.2 C247.6,299.9 249.9,297.9 251.7,296.7 C253.4,295.4 255.9,295.0 256.7,294.7" fill="none" stroke="#e3151d" stroke-width="1.9" stroke-linecap="round"/>
<path d="M262.5,291.4 L252.3,293.2 L256.3,296.4 L258.5,301.0 Z" fill="#e3151d"/>
<rect x="91.3" y="388.9" width="21.400000000000006" height="3.900000000000034" fill="#000"/>
<rect x="275.5" y="378" width="8.0" height="8" fill="none" stroke="#000" stroke-width="1.3" stroke-dasharray="1.6,1.6"/>
<line x1="283.75" y1="377.5" x2="354.6" y2="280.2" stroke="#000" stroke-width="1.8" stroke-dasharray="6,4.2"/>
<line x1="283.75" y1="386" x2="353.3" y2="417.2" stroke="#000" stroke-width="1.8" stroke-dasharray="6,4.2"/>
<text x="11.2" y="381.5" font-size="12.3" textLength="85.9" lengthAdjust="spacingAndGlyphs">Nanoprocessed</text>
<text x="45.3" y="396.7" font-size="12.3" textLength="17.6" lengthAdjust="spacingAndGlyphs">silk</text>
<text x="188.7" y="426.6" font-size="12.3" textLength="24" lengthAdjust="spacingAndGlyphs">Skin</text>
<text x="170.6" y="465.6" font-size="12.3" textLength="61" lengthAdjust="spacingAndGlyphs">Net cooling</text>
<path d="M108.0,197.4 C109.2,195.5 112.0,189.6 114.9,186.0 C117.8,182.4 122.0,178.3 125.2,175.6 C128.4,172.9 131.3,171.6 134.4,169.9 C137.5,168.2 139.3,166.6 143.5,165.3 C147.7,164.1 154.2,163.6 159.5,162.4 C164.8,161.2 167.9,159.4 175.6,158.2 C183.3,157.0 195.4,155.1 205.9,155.0 C216.4,154.9 231.2,156.8 238.6,157.6 C245.9,158.4 245.2,158.3 250.0,159.6 C254.8,160.9 261.5,162.6 267.2,165.3 C272.9,168.0 279.6,172.2 284.4,175.6 C289.2,179.0 292.9,182.8 295.8,185.9 C298.7,189.0 300.6,192.6 301.5,193.9 L301.5,194.5 C299.6,193.7 294.8,191.2 290.0,189.4 C285.2,187.6 279.6,185.2 272.9,183.6 C266.2,182.0 261.2,180.8 250.0,179.6 C238.8,178.4 221.0,176.5 205.9,176.5 C190.8,176.5 170.5,178.4 159.5,179.6 C148.5,180.8 146.1,182.0 140.0,183.6 C133.9,185.2 128.2,187.1 122.9,189.4 C117.6,191.7 110.5,196.1 108.0,197.4 Z" fill="url(#skta)"/>
<path d="M108.0,197.4 C110.5,196.1 117.6,191.7 122.9,189.4 C128.2,187.1 133.9,185.2 140.0,183.6 C146.1,182.0 148.5,180.8 159.5,179.6 C170.5,178.4 190.8,176.5 205.9,176.5 C221.0,176.5 238.8,178.4 250.0,179.6 C261.2,180.8 266.2,182.0 272.9,183.6 C279.6,185.2 285.2,187.6 290.0,189.4 C294.8,191.2 299.6,193.7 301.5,194.5 L299.5,206.5 C297.9,205.6 294.4,202.7 290.0,200.8 C285.6,198.9 279.6,196.8 272.9,195.1 C266.2,193.4 261.2,191.7 250.0,190.5 C238.8,189.3 221.0,187.7 205.9,187.9 C190.8,188.1 170.5,190.4 159.5,191.6 C148.5,192.8 146.1,193.3 140.0,195.0 C133.9,196.7 128.0,199.9 122.9,202.0 C117.9,204.1 111.9,206.8 109.7,207.7 Z" fill="#f3c1b1"/>
<path d="M108.0,197.4 C110.5,196.1 117.6,191.7 122.9,189.4 C128.2,187.1 133.9,185.2 140.0,183.6 C146.1,182.0 148.5,180.8 159.5,179.6 C170.5,178.4 190.8,176.5 205.9,176.5 C221.0,176.5 238.8,178.4 250.0,179.6 C261.2,180.8 266.2,182.0 272.9,183.6 C279.6,185.2 285.2,187.6 290.0,189.4 C294.8,191.2 299.6,193.7 301.5,194.5" fill="none" stroke="#fadfcf" stroke-width="1.3"/>
<path d="M112.5,155.5 C113.2,154.2 115.1,150.6 117.0,148.0 C118.9,145.4 121.5,142.6 124.0,140.0 C126.5,137.4 130.9,133.9 132.3,132.7 C134.2,133.1 140.1,134.6 144.0,135.3 C147.9,136.1 150.5,136.8 156.0,137.2 C161.5,137.6 169.7,138.4 177.2,138.0 C184.7,137.6 194.4,135.5 201.0,134.5 C207.6,133.5 210.7,132.6 216.8,131.9 C223.0,131.2 230.4,130.4 237.9,130.6 C245.4,130.8 254.6,131.9 261.7,133.2 C268.8,134.5 275.0,136.4 280.2,138.5 C285.4,140.6 289.3,142.9 293.0,146.0 C296.7,149.1 301.0,155.2 302.6,157.0 C301.1,156.8 298.0,156.4 293.4,155.7 C288.8,155.0 282.4,153.7 274.9,153.0 C267.4,152.3 257.3,151.7 248.5,151.7 C239.7,151.7 229.5,151.7 222.0,153.0 C214.5,154.3 211.1,157.8 203.6,159.6 C196.1,161.4 185.1,162.9 177.2,163.6 C169.3,164.3 163.9,164.3 156.0,163.6 C148.1,162.9 136.8,160.9 129.6,159.6 C122.3,158.2 115.3,156.2 112.5,155.5 Z" fill="url(#sga)"/>
<path d="M302.6,157.0 C301.1,156.8 298.0,156.4 293.4,155.7 C288.8,155.0 282.4,153.7 274.9,153.0 C267.4,152.3 257.3,151.7 248.5,151.7 C239.7,151.7 229.5,151.7 222.0,153.0 C214.5,154.3 211.1,157.8 203.6,159.6 C196.1,161.4 185.1,162.9 177.2,163.6 C169.3,164.3 163.9,164.3 156.0,163.6 C148.1,162.9 136.8,160.9 129.6,159.6 C122.3,158.2 115.3,156.2 112.5,155.5" fill="none" stroke="#8b7fc1" stroke-width="1.6"/>
<g transform="translate(134.50,47.80) rotate(-15.80)"><path d="M-5.80,0.00 L5.80,0.00 L5.80,77.14 L-5.80,77.14 Z" fill="url(#rba0)"/><path d="M9.00,76.64 L0.00,93.64 L-9.00,76.64 Z" fill="url(#rba0h)"/></g>
<g transform="translate(174.10,138.00) rotate(-162.90)"><path d="M-5.80,0.00 L5.80,0.00 L5.80,77.35 L-5.80,77.35 Z" fill="url(#rba1)"/><path d="M9.00,76.85 L0.00,93.85 L-9.00,76.85 Z" fill="url(#rba1h)"/></g>
<path d="M238.8,131.7 C240.2,129.9 244.7,125.1 247.0,121.0 C249.3,116.9 252.3,111.5 252.6,107.0 C252.9,102.5 250.8,97.8 249.0,94.0 C247.2,90.2 243.4,87.2 242.0,84.0 C240.6,80.8 240.6,77.8 240.8,75.0 C241.1,72.2 242.1,69.2 243.5,67.0 C244.9,64.8 247.2,62.8 249.0,61.5 C250.8,60.2 253.2,59.8 254.0,59.5" fill="none" stroke="#e3151d" stroke-width="1.9" stroke-linecap="round"/>
<path d="M259.8,56.2 L249.6,58.0 L253.6,61.2 L255.8,65.8 Z" fill="#e3151d"/>
<line x1="160.4" y1="139.4" x2="164.8" y2="155.2" stroke="#7840b0" stroke-width="1.2"/>
<path d="M166.4,160.8 L161.9,156.0 L165.4,157.2 L167.7,154.4 Z" fill="#7840b0"/>
<rect x="91" y="151" width="21.700000000000003" height="4" fill="#000"/>
<rect x="275.2" y="141.4" width="8.600000000000023" height="8.799999999999983" fill="none" stroke="#000" stroke-width="1.3" stroke-dasharray="1.6,1.6"/>
<line x1="284.1" y1="140.9" x2="345.3" y2="37.1" stroke="#000" stroke-width="1.8" stroke-dasharray="6,4.2"/>
<line x1="284.1" y1="150.6" x2="341.3" y2="198.4" stroke="#000" stroke-width="1.8" stroke-dasharray="6,4.2"/>
<text x="19" y="156.8" font-size="12.3" textLength="60.9" lengthAdjust="spacingAndGlyphs">Natural silk</text>
<text x="191.7" y="186" font-size="12.3" textLength="23.8" lengthAdjust="spacingAndGlyphs">Skin</text>
<text x="172.7" y="217.2" font-size="12.3" textLength="62.6" lengthAdjust="spacingAndGlyphs">Net heating</text>
<g transform="translate(0,0)">
<path d="M604.7,191.3 L608.0,180.0 L609.1,175.9 L610.2,173.0 L611.2,166.9 L613.1,165.0 L614.0,164.1 L614.1,163.0 L615.0,167.5 L615.9,162.9 L615.1,160.9 L616.0,169.6 L616.9,162.0 L616.9,159.4 L617.8,156.4 L618.8,154.1 L619.7,149.9 L620.7,147.5 L621.6,142.5 L622.5,142.1 L623.5,137.1 L624.4,135.3 L625.3,131.2 L626.2,130.9 L627.2,129.3 L628.1,127.5 L630.0,116.2 L631.0,105.0 L633.0,96.0 L634.2,93.3 L635.4,90.5 L635.8,81.6 L636.7,92.4 L637.6,81.9 L638.0,72.0 L638.9,68.4 L639.8,63.4 L640.7,62.1 L641.6,54.0 L642.6,54.2 L643.7,54.0 L644.7,54.4 L645.7,53.2 L646.8,51.8 L647.8,50.0 L648.8,50.4 L648.8,50.2 L649.7,61.1 L650.6,50.1 L650.7,51.3 L651.7,51.8 L652.6,48.8 L653.6,52.1 L654.6,48.3 L654.7,48.0 L655.6,57.8 L656.5,48.4 L656.5,48.9 L657.5,46.2 L658.5,47.7 L658.6,48.0 L659.5,53.8 L660.4,47.5 L659.5,49.0 L660.4,54.0 L661.3,48.2 L661.4,49.7 L661.5,49.6 L662.4,58.8 L663.3,50.2 L663.4,53.5 L664.4,50.6 L665.3,51.8 L666.3,53.0 L667.3,51.6 L668.3,52.7 L669.3,53.8 L670.3,54.3 L670.5,55.3 L671.4,63.0 L672.3,55.5 L672.4,59.0 L673.4,57.1 L674.4,56.9 L675.4,59.3 L676.4,62.3 L677.4,63.1 L678.4,60.5 L678.5,61.6 L679.4,66.2 L680.3,60.8 L680.4,61.7 L681.4,62.2 L682.3,64.6 L682.3,67.2 L683.2,72.8 L684.1,67.5 L684.1,69.3 L684.2,71.8 L685.1,81.0 L686.0,70.7 L686.2,72.2 L687.2,73.0 L688.2,78.4 L689.3,75.9 L690.3,76.3 L690.4,78.5 L691.3,86.4 L692.2,78.7 L692.2,82.4 L693.2,82.4 L693.5,85.8 L694.4,94.2 L695.3,84.6 L695.6,86.4 L696.8,88.4 L698.0,94.1 L699.2,96.8 L700.4,100.1 L701.6,96.3 L702.5,98.2 L703.4,100.1 L704.3,101.4 L705.2,101.6 L706.4,104.9 L707.6,107.6 L708.8,116.3 L710.0,116.0 L710.7,144.7 L711.6,143.0 L712.6,137.2 L713.5,127.9 L714.5,125.9 L715.4,122.3 L716.4,119.5 L716.4,120.7 L717.3,127.6 L718.2,121.3 L718.2,123.9 L719.1,126.4 L720.1,125.3 L721.0,123.8 L721.9,124.3 L722.9,126.8 L723.8,130.0 L724.8,133.7 L725.7,136.8 L726.7,135.1 L727.9,143.5 L729.1,163.9 L729.4,155.9 L730.3,168.1 L731.2,156.1 L731.5,145.9 L732.5,148.6 L733.4,146.6 L734.4,146.4 L735.3,147.6 L736.3,144.7 L737.3,147.3 L738.3,149.1 L739.3,148.5 L740.3,153.4 L741.3,151.9 L742.3,151.9 L743.5,160.2 L744.7,161.5 L746.6,191.3 L750.7,191.3 L754.0,175.0 L754.9,172.9 L755.8,169.2 L756.7,166.2 L757.3,163.8 L758.2,167.9 L759.1,166.5 L760.0,167.0 L761.0,168.5 L761.9,167.5 L762.8,168.6 L763.7,169.0 L764.6,169.0 L765.6,171.6 L766.7,172.1 L767.7,174.0 L768.7,175.2 L769.8,175.8 L770.8,176.2 L771.9,180.2 L773.0,184.0 L774.0,191.3 L780.2,191.3 L783.3,182.5 L784.2,182.7 L785.1,183.6 L786.0,183.0 L786.9,185.4 L787.8,182.9 L788.7,183.2 L789.6,182.0 L790.5,183.1 L791.4,183.0 L792.3,185.9 L793.3,184.3 L794.2,186.3 L795.1,184.5 L796.0,184.0 L802.1,186.7 L804.2,191.3 Z" fill="#e3de8f"/>
<line x1="681.2" y1="66.8" x2="681.2" y2="91.5" stroke="#e8e4a6" stroke-width="0.8"/>
<line x1="680.7" y1="64.7" x2="680.7" y2="92.1" stroke="#e8e4a6" stroke-width="0.8"/>
<line x1="720.6" y1="128.7" x2="720.6" y2="144.2" stroke="#e8e4a6" stroke-width="0.8"/>
<line x1="645.2" y1="54.2" x2="645.2" y2="78.5" stroke="#ddd885" stroke-width="0.8"/>
<line x1="696.4" y1="91.5" x2="696.4" y2="107.4" stroke="#e8e4a6" stroke-width="0.8"/>
<line x1="707.3" y1="112.3" x2="707.3" y2="126.0" stroke="#e8e4a6" stroke-width="0.8"/>
<line x1="645.7" y1="56.9" x2="645.7" y2="100.7" stroke="#ddd885" stroke-width="0.8"/>
<line x1="703.7" y1="101.7" x2="703.7" y2="142.5" stroke="#ddd885" stroke-width="0.8"/>
<line x1="727.0" y1="142.7" x2="727.0" y2="156.7" stroke="#e8e4a6" stroke-width="0.8"/>
<line x1="727.4" y1="143.8" x2="727.4" y2="167.4" stroke="#e8e4a6" stroke-width="0.8"/>
<line x1="662.6" y1="53.9" x2="662.6" y2="62.6" stroke="#e8e4a6" stroke-width="0.8"/>
<line x1="674.3" y1="58.9" x2="674.3" y2="79.2" stroke="#e8e4a6" stroke-width="0.8"/>
<line x1="681.2" y1="64.3" x2="681.2" y2="108.7" stroke="#ddd885" stroke-width="0.8"/>
<line x1="725.3" y1="134.3" x2="725.3" y2="152.2" stroke="#ddd885" stroke-width="0.8"/>
<line x1="719.0" y1="124.5" x2="719.0" y2="160.4" stroke="#e8e4a6" stroke-width="0.8"/>
<line x1="713.6" y1="132.4" x2="713.6" y2="175.4" stroke="#e8e4a6" stroke-width="0.8"/>
<line x1="646.3" y1="56.6" x2="646.3" y2="85.7" stroke="#e8e4a6" stroke-width="0.8"/>
<line x1="640.6" y1="61.3" x2="640.6" y2="94.8" stroke="#e8e4a6" stroke-width="0.8"/>
<line x1="717.9" y1="123.9" x2="717.9" y2="132.5" stroke="#ddd885" stroke-width="0.8"/>
<line x1="709.0" y1="114.7" x2="709.0" y2="154.4" stroke="#ddd885" stroke-width="0.8"/>
<line x1="657.4" y1="48.7" x2="657.4" y2="57.2" stroke="#e8e4a6" stroke-width="0.8"/>
<line x1="721.0" y1="126.6" x2="721.0" y2="139.3" stroke="#ddd885" stroke-width="0.8"/>
<line x1="635.4" y1="30.9" x2="635.4" y2="191.3" stroke="#111" stroke-width="1" stroke-dasharray="1.2,1.3"/>
<line x1="684.4" y1="30.9" x2="684.4" y2="191.3" stroke="#111" stroke-width="1" stroke-dasharray="1.2,1.3"/>
<path d="M603.2,151.0 C603.4,149.2 603.7,146.0 604.6,140.0 C605.5,134.0 607.2,121.0 608.4,115.0 C609.6,109.0 610.7,107.2 612.0,104.0 C613.3,100.8 614.3,99.2 616.3,95.5 C618.3,91.8 622.0,86.1 624.1,82.0 C626.2,77.9 627.3,74.8 629.0,71.0 C630.7,67.2 632.8,62.4 634.5,59.5 C636.2,56.6 637.2,55.2 639.0,53.5 C640.8,51.8 642.0,50.7 645.0,49.3 C648.0,47.9 652.4,46.5 656.7,45.2 C661.0,43.9 666.1,42.6 670.8,41.6 C675.5,40.6 680.9,39.8 685.0,39.2 C689.1,38.7 691.3,38.4 695.6,38.3 C699.9,38.2 706.2,38.4 710.6,38.8 C715.0,39.2 719.3,40.5 722.1,40.6 C724.9,40.7 726.2,39.4 727.5,39.5 C728.8,39.6 729.0,39.9 730.0,41.0 C731.0,42.1 732.4,45.5 733.7,45.9 C735.1,46.3 736.2,43.4 738.1,43.2 C740.0,43.0 743.6,43.7 745.2,44.5 C746.8,45.3 746.8,46.4 747.5,48.0 C748.2,49.6 748.8,51.7 749.6,54.2 C750.4,56.7 751.6,61.0 752.3,63.1 C753.0,65.2 753.4,65.1 754.0,66.6 C754.6,68.1 755.2,69.6 756.0,72.0 C756.8,74.4 757.6,79.9 758.5,80.8 C759.4,81.7 760.1,80.4 761.1,77.3 C762.1,74.2 763.7,62.7 764.7,62.2 C765.7,61.8 766.4,72.1 767.3,74.6 C768.2,77.1 768.5,79.2 770.0,77.3 C771.5,75.4 774.7,64.7 776.2,63.1 C777.7,61.5 778.1,64.2 778.8,67.5 C779.5,70.8 779.9,80.8 780.6,82.6 C781.4,84.4 782.7,76.0 783.3,78.1 C783.9,80.2 783.9,88.7 784.4,95.0 C784.9,101.3 785.8,114.8 786.5,115.8 C787.2,116.8 787.8,101.0 788.5,101.2 C789.2,101.5 789.8,112.8 790.5,117.0 C791.2,121.2 792.0,126.8 792.7,126.2 C793.4,125.7 794.1,114.8 794.8,113.8 C795.5,112.7 796.2,120.3 796.9,120.0 C797.6,119.7 798.1,115.2 799.0,111.7 C799.9,108.2 801.1,99.9 802.1,99.2 C803.1,98.5 804.7,106.1 805.2,107.5" fill="none" stroke="#3aa6e6" stroke-width="1.7" stroke-linejoin="round" stroke-linecap="round"/>
<rect x="603.6" y="29.4" width="201.79999999999995" height="161.9" fill="none" stroke="#000" stroke-width="1.1"/>
<line x1="598.1" y1="191.30" x2="603.6" y2="191.30" stroke="#000" stroke-width="1.1"/>
<text x="593.3" y="195.60" text-anchor="end" font-size="12.3">0</text>
<line x1="599.4" y1="175.11" x2="603.6" y2="175.11" stroke="#000" stroke-width="1.1"/>
<line x1="598.1" y1="158.92" x2="603.6" y2="158.92" stroke="#000" stroke-width="1.1"/>
<text x="593.3" y="163.22" text-anchor="end" font-size="12.3">0.2</text>
<line x1="599.4" y1="142.73" x2="603.6" y2="142.73" stroke="#000" stroke-width="1.1"/>
<line x1="598.1" y1="126.54" x2="603.6" y2="126.54" stroke="#000" stroke-width="1.1"/>
<text x="593.3" y="130.84" text-anchor="end" font-size="12.3">0.4</text>
<line x1="599.4" y1="110.35" x2="603.6" y2="110.35" stroke="#000" stroke-width="1.1"/>
<line x1="598.1" y1="94.16" x2="603.6" y2="94.16" stroke="#000" stroke-width="1.1"/>
<text x="593.3" y="98.46" text-anchor="end" font-size="12.3">0.6</text>
<line x1="599.4" y1="77.97" x2="603.6" y2="77.97" stroke="#000" stroke-width="1.1"/>
<line x1="598.1" y1="61.78" x2="603.6" y2="61.78" stroke="#000" stroke-width="1.1"/>
<text x="593.3" y="66.08" text-anchor="end" font-size="12.3">0.8</text>
<line x1="599.4" y1="45.59" x2="603.6" y2="45.59" stroke="#000" stroke-width="1.1"/>
<line x1="598.1" y1="29.40" x2="603.6" y2="29.40" stroke="#000" stroke-width="1.1"/>
<text x="593.3" y="33.70" text-anchor="end" font-size="12.3">1.0</text>
<line x1="652.4" y1="191.3" x2="652.4" y2="197.9" stroke="#000" stroke-width="1.1"/>
<line x1="717.5" y1="191.3" x2="717.5" y2="197.9" stroke="#000" stroke-width="1.1"/>
<line x1="756.3" y1="191.3" x2="756.3" y2="197.9" stroke="#000" stroke-width="1.1"/>
<line x1="783.1" y1="191.3" x2="783.1" y2="197.9" stroke="#000" stroke-width="1.1"/>
<line x1="805.3" y1="191.3" x2="805.3" y2="197.9" stroke="#000" stroke-width="1.1"/>
<line x1="613.3" y1="191.3" x2="613.3" y2="195.4" stroke="#000" stroke-width="1.1"/>
<line x1="628.4" y1="191.3" x2="628.4" y2="195.4" stroke="#000" stroke-width="1.1"/>
<line x1="640.3" y1="191.3" x2="640.3" y2="195.4" stroke="#000" stroke-width="1.1"/>
<line x1="662.5" y1="191.3" x2="662.5" y2="195.4" stroke="#000" stroke-width="1.1"/>
<line x1="671.6" y1="191.3" x2="671.6" y2="195.4" stroke="#000" stroke-width="1.1"/>
<line x1="679.7" y1="191.3" x2="679.7" y2="195.4" stroke="#000" stroke-width="1.1"/>
<line x1="687.6" y1="191.3" x2="687.6" y2="195.4" stroke="#000" stroke-width="1.1"/>
<line x1="694.3" y1="191.3" x2="694.3" y2="195.4" stroke="#000" stroke-width="1.1"/>
<line x1="700.3" y1="191.3" x2="700.3" y2="195.4" stroke="#000" stroke-width="1.1"/>
<line x1="706.6" y1="191.3" x2="706.6" y2="195.4" stroke="#000" stroke-width="1.1"/>
<line x1="712.4" y1="191.3" x2="712.4" y2="195.4" stroke="#000" stroke-width="1.1"/>
<line x1="723.4" y1="191.3" x2="723.4" y2="195.4" stroke="#000" stroke-width="1.1"/>
<line x1="727.7" y1="191.3" x2="727.7" y2="195.4" stroke="#000" stroke-width="1.1"/>
<line x1="732.4" y1="191.3" x2="732.4" y2="195.4" stroke="#000" stroke-width="1.1"/>
<line x1="737.2" y1="191.3" x2="737.2" y2="195.4" stroke="#000" stroke-width="1.1"/>
<line x1="741.5" y1="191.3" x2="741.5" y2="195.4" stroke="#000" stroke-width="1.1"/>
<line x1="745.4" y1="191.3" x2="745.4" y2="195.4" stroke="#000" stroke-width="1.1"/>
<line x1="749.2" y1="191.3" x2="749.2" y2="195.4" stroke="#000" stroke-width="1.1"/>
<line x1="752.8" y1="191.3" x2="752.8" y2="195.4" stroke="#000" stroke-width="1.1"/>
<line x1="759.8" y1="191.3" x2="759.8" y2="195.4" stroke="#000" stroke-width="1.1"/>
<line x1="763.1" y1="191.3" x2="763.1" y2="195.4" stroke="#000" stroke-width="1.1"/>
<line x1="766.3" y1="191.3" x2="766.3" y2="195.4" stroke="#000" stroke-width="1.1"/>
<line x1="769.4" y1="191.3" x2="769.4" y2="195.4" stroke="#000" stroke-width="1.1"/>
<line x1="772.3" y1="191.3" x2="772.3" y2="195.4" stroke="#000" stroke-width="1.1"/>
<line x1="775.1" y1="191.3" x2="775.1" y2="195.4" stroke="#000" stroke-width="1.1"/>
<line x1="778" y1="191.3" x2="778" y2="195.4" stroke="#000" stroke-width="1.1"/>
<line x1="780.7" y1="191.3" x2="780.7" y2="195.4" stroke="#000" stroke-width="1.1"/>
<line x1="785.7" y1="191.3" x2="785.7" y2="195.4" stroke="#000" stroke-width="1.1"/>
<line x1="788.1" y1="191.3" x2="788.1" y2="195.4" stroke="#000" stroke-width="1.1"/>
<line x1="790.2" y1="191.3" x2="790.2" y2="195.4" stroke="#000" stroke-width="1.1"/>
<line x1="792.4" y1="191.3" x2="792.4" y2="195.4" stroke="#000" stroke-width="1.1"/>
<line x1="794.6" y1="191.3" x2="794.6" y2="195.4" stroke="#000" stroke-width="1.1"/>
<line x1="796.8" y1="191.3" x2="796.8" y2="195.4" stroke="#000" stroke-width="1.1"/>
<line x1="798.9" y1="191.3" x2="798.9" y2="195.4" stroke="#000" stroke-width="1.1"/>
<line x1="800.9" y1="191.3" x2="800.9" y2="195.4" stroke="#000" stroke-width="1.1"/>
<line x1="802.8" y1="191.3" x2="802.8" y2="195.4" stroke="#000" stroke-width="1.1"/>
<text x="603.6" y="210.9" text-anchor="middle" font-size="12.3">0.3</text>
<text x="652.2" y="210.9" text-anchor="middle" font-size="12.3">0.5</text>
<text x="718.0" y="210.9" text-anchor="middle" font-size="12.3">1.0</text>
<text x="757.0" y="210.9" text-anchor="middle" font-size="12.3">1.5</text>
<text x="783.4" y="210.9" text-anchor="middle" font-size="12.3">2.0</text>
<text x="805.1" y="210.9" text-anchor="middle" font-size="12.3">2.5</text>
<text x="657.6" y="231.1" font-size="12.3" textLength="93.3" lengthAdjust="spacingAndGlyphs">Wavelength (μm)</text>
<text transform="translate(565.2,109.8) rotate(-90)" text-anchor="middle" font-size="12.2">Reflectivity</text>
<text x="611.5" y="24.8" font-size="12.3" textLength="16.6" lengthAdjust="spacingAndGlyphs">UV</text>
<text x="648.2" y="24.8" font-size="12.3" textLength="20.4" lengthAdjust="spacingAndGlyphs">VIS</text>
<text x="730.3" y="24.8" font-size="12.3" textLength="21.2" lengthAdjust="spacingAndGlyphs">NIR</text>
<text x="640.3" y="159.8" font-size="12.4" textLength="66.3" lengthAdjust="spacingAndGlyphs">AM1.5 solar</text>
<text x="648.9" y="173.2" font-size="12.3" textLength="50.2" lengthAdjust="spacingAndGlyphs">spectrum</text>
</g>
<g transform="translate(0,243)">
<path d="M604.7,191.3 L608.0,180.0 L609.1,175.9 L610.2,173.0 L611.2,166.9 L613.1,165.0 L614.0,164.1 L614.1,163.0 L615.0,167.5 L615.9,162.9 L615.1,160.9 L616.0,169.6 L616.9,162.0 L616.9,159.4 L617.8,156.4 L618.8,154.1 L619.7,149.9 L620.7,147.5 L621.6,142.5 L622.5,142.1 L623.5,137.1 L624.4,135.3 L625.3,131.2 L626.2,130.9 L627.2,129.3 L628.1,127.5 L630.0,116.2 L631.0,105.0 L633.0,96.0 L634.2,93.3 L635.4,90.5 L635.8,81.6 L636.7,92.4 L637.6,81.9 L638.0,72.0 L638.9,68.4 L639.8,63.4 L640.7,62.1 L641.6,54.0 L642.6,54.2 L643.7,54.0 L644.7,54.4 L645.7,53.2 L646.8,51.8 L647.8,50.0 L648.8,50.4 L648.8,50.2 L649.7,61.1 L650.6,50.1 L650.7,51.3 L651.7,51.8 L652.6,48.8 L653.6,52.1 L654.6,48.3 L654.7,48.0 L655.6,57.8 L656.5,48.4 L656.5,48.9 L657.5,46.2 L658.5,47.7 L658.6,48.0 L659.5,53.8 L660.4,47.5 L659.5,49.0 L660.4,54.0 L661.3,48.2 L661.4,49.7 L661.5,49.6 L662.4,58.8 L663.3,50.2 L663.4,53.5 L664.4,50.6 L665.3,51.8 L666.3,53.0 L667.3,51.6 L668.3,52.7 L669.3,53.8 L670.3,54.3 L670.5,55.3 L671.4,63.0 L672.3,55.5 L672.4,59.0 L673.4,57.1 L674.4,56.9 L675.4,59.3 L676.4,62.3 L677.4,63.1 L678.4,60.5 L678.5,61.6 L679.4,66.2 L680.3,60.8 L680.4,61.7 L681.4,62.2 L682.3,64.6 L682.3,67.2 L683.2,72.8 L684.1,67.5 L684.1,69.3 L684.2,71.8 L685.1,81.0 L686.0,70.7 L686.2,72.2 L687.2,73.0 L688.2,78.4 L689.3,75.9 L690.3,76.3 L690.4,78.5 L691.3,86.4 L692.2,78.7 L692.2,82.4 L693.2,82.4 L693.5,85.8 L694.4,94.2 L695.3,84.6 L695.6,86.4 L696.8,88.4 L698.0,94.1 L699.2,96.8 L700.4,100.1 L701.6,96.3 L702.5,98.2 L703.4,100.1 L704.3,101.4 L705.2,101.6 L706.4,104.9 L707.6,107.6 L708.8,116.3 L710.0,116.0 L710.7,144.7 L711.6,143.0 L712.6,137.2 L713.5,127.9 L714.5,125.9 L715.4,122.3 L716.4,119.5 L716.4,120.7 L717.3,127.6 L718.2,121.3 L718.2,123.9 L719.1,126.4 L720.1,125.3 L721.0,123.8 L721.9,124.3 L722.9,126.8 L723.8,130.0 L724.8,133.7 L725.7,136.8 L726.7,135.1 L727.9,143.5 L729.1,163.9 L729.4,155.9 L730.3,168.1 L731.2,156.1 L731.5,145.9 L732.5,148.6 L733.4,146.6 L734.4,146.4 L735.3,147.6 L736.3,144.7 L737.3,147.3 L738.3,149.1 L739.3,148.5 L740.3,153.4 L741.3,151.9 L742.3,151.9 L743.5,160.2 L744.7,161.5 L746.6,191.3 L750.7,191.3 L754.0,175.0 L754.9,172.9 L755.8,169.2 L756.7,166.2 L757.3,163.8 L758.2,167.9 L759.1,166.5 L760.0,167.0 L761.0,168.5 L761.9,167.5 L762.8,168.6 L763.7,169.0 L764.6,169.0 L765.6,171.6 L766.7,172.1 L767.7,174.0 L768.7,175.2 L769.8,175.8 L770.8,176.2 L771.9,180.2 L773.0,184.0 L774.0,191.3 L780.2,191.3 L783.3,182.5 L784.2,182.7 L785.1,183.6 L786.0,183.0 L786.9,185.4 L787.8,182.9 L788.7,183.2 L789.6,182.0 L790.5,183.1 L791.4,183.0 L792.3,185.9 L793.3,184.3 L794.2,186.3 L795.1,184.5 L796.0,184.0 L802.1,186.7 L804.2,191.3 Z" fill="#e3de8f"/>
<line x1="681.2" y1="66.8" x2="681.2" y2="91.5" stroke="#e8e4a6" stroke-width="0.8"/>
<line x1="680.7" y1="64.7" x2="680.7" y2="92.1" stroke="#e8e4a6" stroke-width="0.8"/>
<line x1="720.6" y1="128.7" x2="720.6" y2="144.2" stroke="#e8e4a6" stroke-width="0.8"/>
<line x1="645.2" y1="54.2" x2="645.2" y2="78.5" stroke="#ddd885" stroke-width="0.8"/>
<line x1="696.4" y1="91.5" x2="696.4" y2="107.4" stroke="#e8e4a6" stroke-width="0.8"/>
<line x1="707.3" y1="112.3" x2="707.3" y2="126.0" stroke="#e8e4a6" stroke-width="0.8"/>
<line x1="645.7" y1="56.9" x2="645.7" y2="100.7" stroke="#ddd885" stroke-width="0.8"/>
<line x1="703.7" y1="101.7" x2="703.7" y2="142.5" stroke="#ddd885" stroke-width="0.8"/>
<line x1="727.0" y1="142.7" x2="727.0" y2="156.7" stroke="#e8e4a6" stroke-width="0.8"/>
<line x1="727.4" y1="143.8" x2="727.4" y2="167.4" stroke="#e8e4a6" stroke-width="0.8"/>
<line x1="662.6" y1="53.9" x2="662.6" y2="62.6" stroke="#e8e4a6" stroke-width="0.8"/>
<line x1="674.3" y1="58.9" x2="674.3" y2="79.2" stroke="#e8e4a6" stroke-width="0.8"/>
<line x1="681.2" y1="64.3" x2="681.2" y2="108.7" stroke="#ddd885" stroke-width="0.8"/>
<line x1="725.3" y1="134.3" x2="725.3" y2="152.2" stroke="#ddd885" stroke-width="0.8"/>
<line x1="719.0" y1="124.5" x2="719.0" y2="160.4" stroke="#e8e4a6" stroke-width="0.8"/>
<line x1="713.6" y1="132.4" x2="713.6" y2="175.4" stroke="#e8e4a6" stroke-width="0.8"/>
<line x1="646.3" y1="56.6" x2="646.3" y2="85.7" stroke="#e8e4a6" stroke-width="0.8"/>
<line x1="640.6" y1="61.3" x2="640.6" y2="94.8" stroke="#e8e4a6" stroke-width="0.8"/>
<line x1="717.9" y1="123.9" x2="717.9" y2="132.5" stroke="#ddd885" stroke-width="0.8"/>
<line x1="709.0" y1="114.7" x2="709.0" y2="154.4" stroke="#ddd885" stroke-width="0.8"/>
<line x1="657.4" y1="48.7" x2="657.4" y2="57.2" stroke="#e8e4a6" stroke-width="0.8"/>
<line x1="721.0" y1="126.6" x2="721.0" y2="139.3" stroke="#ddd885" stroke-width="0.8"/>
<line x1="635.4" y1="30.9" x2="635.4" y2="191.3" stroke="#111" stroke-width="1" stroke-dasharray="1.2,1.3"/>
<line x1="684.4" y1="30.9" x2="684.4" y2="191.3" stroke="#111" stroke-width="1" stroke-dasharray="1.2,1.3"/>
<path d="M603.5,73.3 C604.4,72.3 607.3,68.6 608.9,67.1 C610.5,65.6 611.5,65.2 613.0,64.5 C614.5,63.8 615.4,63.9 617.7,62.7 C620.0,61.5 624.4,58.9 626.6,57.4 C628.8,55.9 629.5,55.1 631.0,53.8 C632.5,52.5 633.2,50.9 635.4,49.4 C637.6,47.9 641.3,45.9 644.3,44.7 C647.2,43.5 650.1,43.4 653.1,42.4 C656.1,41.4 658.5,40.3 662.0,38.8 C665.5,37.3 670.9,34.7 674.4,33.5 C677.9,32.3 680.2,32.1 683.2,31.7 C686.2,31.3 689.5,31.0 692.1,30.9 C694.8,30.8 697.5,30.9 699.1,31.2 C700.7,31.5 700.8,32.3 701.8,32.6 C702.8,32.9 703.3,33.0 705.0,33.0 C706.7,33.0 708.4,32.8 712.0,32.8 C715.6,32.8 722.8,32.3 726.4,32.8 C730.0,33.3 730.5,35.3 733.5,35.7 C736.5,36.1 741.5,34.1 744.3,35.2 C747.1,36.3 748.7,40.1 750.3,42.4 C751.9,44.7 752.8,46.8 754.0,49.0 C755.2,51.2 756.3,55.0 757.5,55.5 C758.7,56.0 759.9,53.8 761.1,52.0 C762.3,50.2 763.3,44.7 764.7,44.8 C766.1,44.9 767.5,52.7 769.5,52.7 C771.5,52.7 774.9,44.7 776.7,44.8 C778.5,44.9 779.3,52.2 780.3,53.2 C781.3,54.2 781.7,45.2 782.7,50.8 C783.7,56.4 785.4,83.1 786.3,86.7 C787.2,90.3 787.2,70.3 788.2,72.3 C789.2,74.3 791.2,96.5 792.3,98.7 C793.4,100.9 793.9,86.9 794.7,85.5 C795.5,84.1 796.2,90.9 797.0,90.3 C797.8,89.7 798.6,85.5 799.4,81.9 C800.2,78.3 801.0,69.5 801.8,68.7 C802.6,67.9 803.8,75.7 804.2,77.1" fill="none" stroke="#2b3590" stroke-width="1.7" stroke-linejoin="round" stroke-linecap="round"/>
<rect x="603.6" y="29.4" width="201.79999999999995" height="161.9" fill="none" stroke="#000" stroke-width="1.1"/>
<line x1="598.1" y1="191.30" x2="603.6" y2="191.30" stroke="#000" stroke-width="1.1"/>
<text x="593.3" y="195.60" text-anchor="end" font-size="12.3">0</text>
<line x1="599.4" y1="175.11" x2="603.6" y2="175.11" stroke="#000" stroke-width="1.1"/>
<line x1="598.1" y1="158.92" x2="603.6" y2="158.92" stroke="#000" stroke-width="1.1"/>
<text x="593.3" y="163.22" text-anchor="end" font-size="12.3">0.2</text>
<line x1="599.4" y1="142.73" x2="603.6" y2="142.73" stroke="#000" stroke-width="1.1"/>
<line x1="598.1" y1="126.54" x2="603.6" y2="126.54" stroke="#000" stroke-width="1.1"/>
<text x="593.3" y="130.84" text-anchor="end" font-size="12.3">0.4</text>
<line x1="599.4" y1="110.35" x2="603.6" y2="110.35" stroke="#000" stroke-width="1.1"/>
<line x1="598.1" y1="94.16" x2="603.6" y2="94.16" stroke="#000" stroke-width="1.1"/>
<text x="593.3" y="98.46" text-anchor="end" font-size="12.3">0.6</text>
<line x1="599.4" y1="77.97" x2="603.6" y2="77.97" stroke="#000" stroke-width="1.1"/>
<line x1="598.1" y1="61.78" x2="603.6" y2="61.78" stroke="#000" stroke-width="1.1"/>
<text x="593.3" y="66.08" text-anchor="end" font-size="12.3">0.8</text>
<line x1="599.4" y1="45.59" x2="603.6" y2="45.59" stroke="#000" stroke-width="1.1"/>
<line x1="598.1" y1="29.40" x2="603.6" y2="29.40" stroke="#000" stroke-width="1.1"/>
<text x="593.3" y="33.70" text-anchor="end" font-size="12.3">1.0</text>
<line x1="652.4" y1="191.3" x2="652.4" y2="197.9" stroke="#000" stroke-width="1.1"/>
<line x1="717.5" y1="191.3" x2="717.5" y2="197.9" stroke="#000" stroke-width="1.1"/>
<line x1="756.3" y1="191.3" x2="756.3" y2="197.9" stroke="#000" stroke-width="1.1"/>
<line x1="783.1" y1="191.3" x2="783.1" y2="197.9" stroke="#000" stroke-width="1.1"/>
<line x1="805.3" y1="191.3" x2="805.3" y2="197.9" stroke="#000" stroke-width="1.1"/>
<line x1="613.3" y1="191.3" x2="613.3" y2="195.4" stroke="#000" stroke-width="1.1"/>
<line x1="628.4" y1="191.3" x2="628.4" y2="195.4" stroke="#000" stroke-width="1.1"/>
<line x1="640.3" y1="191.3" x2="640.3" y2="195.4" stroke="#000" stroke-width="1.1"/>
<line x1="662.5" y1="191.3" x2="662.5" y2="195.4" stroke="#000" stroke-width="1.1"/>
<line x1="671.6" y1="191.3" x2="671.6" y2="195.4" stroke="#000" stroke-width="1.1"/>
<line x1="679.7" y1="191.3" x2="679.7" y2="195.4" stroke="#000" stroke-width="1.1"/>
<line x1="687.6" y1="191.3" x2="687.6" y2="195.4" stroke="#000" stroke-width="1.1"/>
<line x1="694.3" y1="191.3" x2="694.3" y2="195.4" stroke="#000" stroke-width="1.1"/>
<line x1="700.3" y1="191.3" x2="700.3" y2="195.4" stroke="#000" stroke-width="1.1"/>
<line x1="706.6" y1="191.3" x2="706.6" y2="195.4" stroke="#000" stroke-width="1.1"/>
<line x1="712.4" y1="191.3" x2="712.4" y2="195.4" stroke="#000" stroke-width="1.1"/>
<line x1="723.4" y1="191.3" x2="723.4" y2="195.4" stroke="#000" stroke-width="1.1"/>
<line x1="727.7" y1="191.3" x2="727.7" y2="195.4" stroke="#000" stroke-width="1.1"/>
<line x1="732.4" y1="191.3" x2="732.4" y2="195.4" stroke="#000" stroke-width="1.1"/>
<line x1="737.2" y1="191.3" x2="737.2" y2="195.4" stroke="#000" stroke-width="1.1"/>
<line x1="741.5" y1="191.3" x2="741.5" y2="195.4" stroke="#000" stroke-width="1.1"/>
<line x1="745.4" y1="191.3" x2="745.4" y2="195.4" stroke="#000" stroke-width="1.1"/>
<line x1="749.2" y1="191.3" x2="749.2" y2="195.4" stroke="#000" stroke-width="1.1"/>
<line x1="752.8" y1="191.3" x2="752.8" y2="195.4" stroke="#000" stroke-width="1.1"/>
<line x1="759.8" y1="191.3" x2="759.8" y2="195.4" stroke="#000" stroke-width="1.1"/>
<line x1="763.1" y1="191.3" x2="763.1" y2="195.4" stroke="#000" stroke-width="1.1"/>
<line x1="766.3" y1="191.3" x2="766.3" y2="195.4" stroke="#000" stroke-width="1.1"/>
<line x1="769.4" y1="191.3" x2="769.4" y2="195.4" stroke="#000" stroke-width="1.1"/>
<line x1="772.3" y1="191.3" x2="772.3" y2="195.4" stroke="#000" stroke-width="1.1"/>
<line x1="775.1" y1="191.3" x2="775.1" y2="195.4" stroke="#000" stroke-width="1.1"/>
<line x1="778" y1="191.3" x2="778" y2="195.4" stroke="#000" stroke-width="1.1"/>
<line x1="780.7" y1="191.3" x2="780.7" y2="195.4" stroke="#000" stroke-width="1.1"/>
<line x1="785.7" y1="191.3" x2="785.7" y2="195.4" stroke="#000" stroke-width="1.1"/>
<line x1="788.1" y1="191.3" x2="788.1" y2="195.4" stroke="#000" stroke-width="1.1"/>
<line x1="790.2" y1="191.3" x2="790.2" y2="195.4" stroke="#000" stroke-width="1.1"/>
<line x1="792.4" y1="191.3" x2="792.4" y2="195.4" stroke="#000" stroke-width="1.1"/>
<line x1="794.6" y1="191.3" x2="794.6" y2="195.4" stroke="#000" stroke-width="1.1"/>
<line x1="796.8" y1="191.3" x2="796.8" y2="195.4" stroke="#000" stroke-width="1.1"/>
<line x1="798.9" y1="191.3" x2="798.9" y2="195.4" stroke="#000" stroke-width="1.1"/>
<line x1="800.9" y1="191.3" x2="800.9" y2="195.4" stroke="#000" stroke-width="1.1"/>
<line x1="802.8" y1="191.3" x2="802.8" y2="195.4" stroke="#000" stroke-width="1.1"/>
<text x="603.6" y="210.9" text-anchor="middle" font-size="12.3">0.3</text>
<text x="652.2" y="210.9" text-anchor="middle" font-size="12.3">0.5</text>
<text x="718.0" y="210.9" text-anchor="middle" font-size="12.3">1.0</text>
<text x="757.0" y="210.9" text-anchor="middle" font-size="12.3">1.5</text>
<text x="783.4" y="210.9" text-anchor="middle" font-size="12.3">2.0</text>
<text x="805.1" y="210.9" text-anchor="middle" font-size="12.3">2.5</text>
<text x="657.6" y="231.1" font-size="12.3" textLength="93.3" lengthAdjust="spacingAndGlyphs">Wavelength (μm)</text>
<text transform="translate(565.2,109.8) rotate(-90)" text-anchor="middle" font-size="12.2">Reflectivity</text>
<text x="611.5" y="24.8" font-size="12.3" textLength="16.6" lengthAdjust="spacingAndGlyphs">UV</text>
<text x="648.2" y="24.8" font-size="12.3" textLength="20.4" lengthAdjust="spacingAndGlyphs">VIS</text>
<text x="730.3" y="24.8" font-size="12.3" textLength="21.2" lengthAdjust="spacingAndGlyphs">NIR</text>
<text x="637.3" y="150.6" font-size="12.4" textLength="66.3" lengthAdjust="spacingAndGlyphs">AM1.5 solar</text>
<text x="645.1" y="164.6" font-size="12.3" textLength="50.2" lengthAdjust="spacingAndGlyphs">spectrum</text>
</g>
<text transform="translate(9.6,20) scale(0.8,1)" font-size="15.5" font-weight="bold">a</text>
<text transform="translate(345.7,20) scale(0.8,1)" font-size="15.5" font-weight="bold">b</text>
<text transform="translate(555.8,19.8) scale(0.8,1)" font-size="15.5" font-weight="bold">c</text>
<text transform="translate(9.6,262) scale(0.8,1)" font-size="15.5" font-weight="bold">d</text>
<text transform="translate(345.6,262) scale(0.8,1)" font-size="15.5" font-weight="bold">e</text>
<text transform="translate(555.8,262) scale(0.8,1)" font-size="15.5" font-weight="bold">f</text>
</svg></body></html>
